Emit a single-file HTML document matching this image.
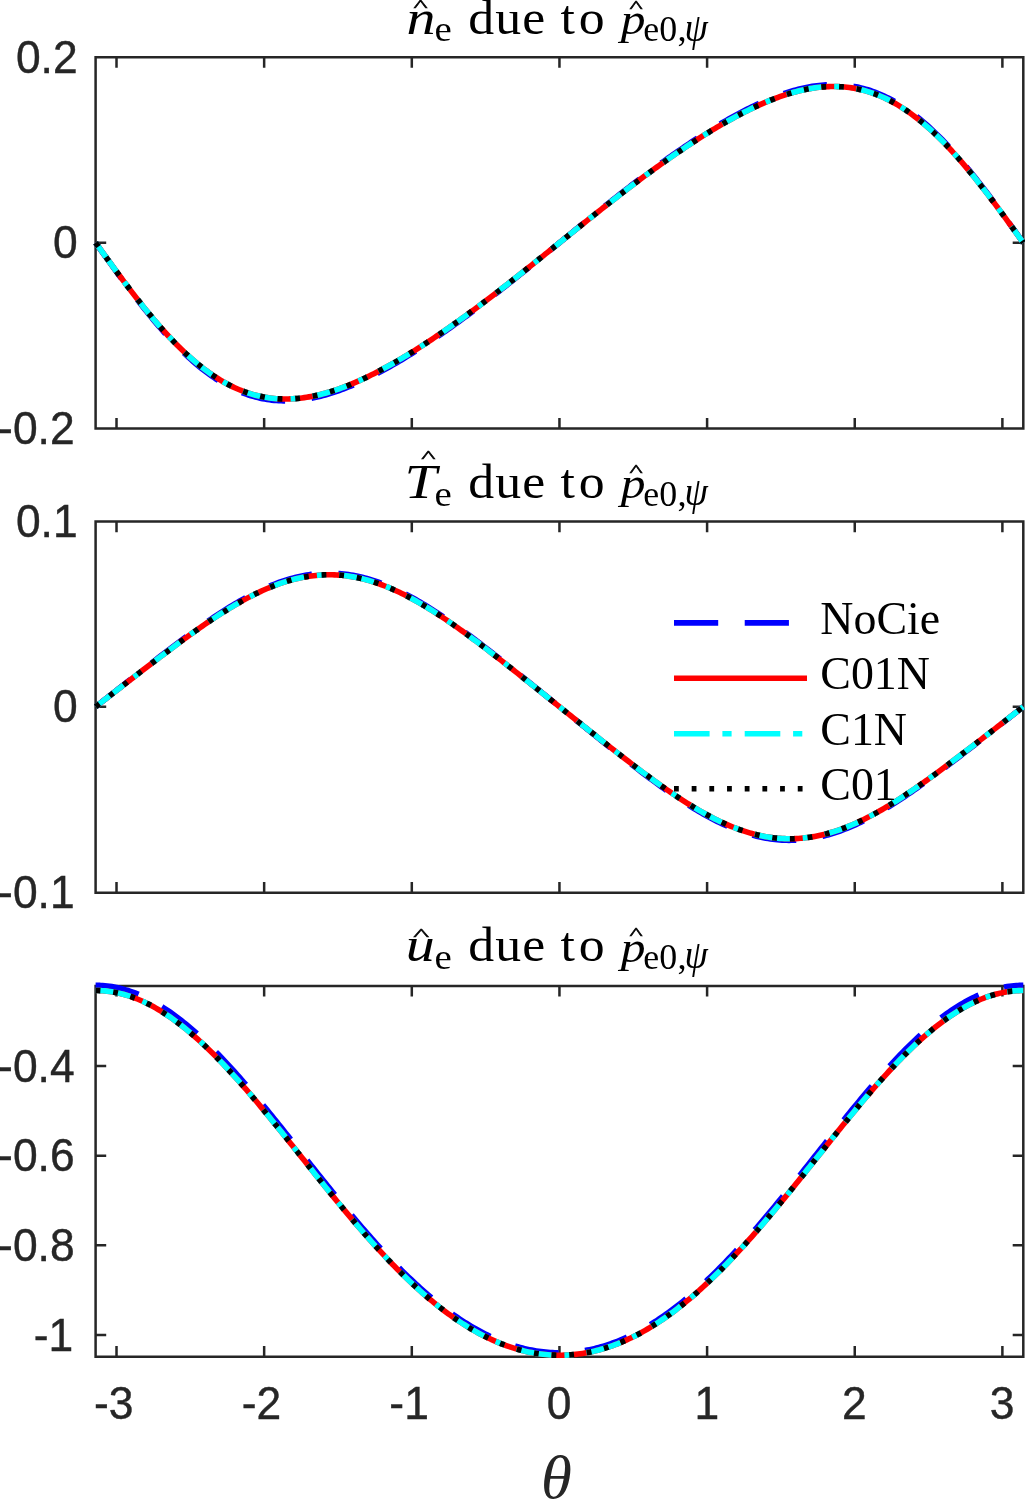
<!DOCTYPE html>
<html><head><meta charset="utf-8"><title>figure</title>
<style>html,body{margin:0;padding:0;background:#fff}svg{display:block}</style></head>
<body>
<svg width="1025" height="1499" viewBox="0 0 1025 1499">
<rect width="1025" height="1499" fill="#fff"/>
<g stroke="#262626" stroke-width="2.5" fill="none" stroke-linecap="butt"><path d="M95.6 56.0 V429.8 M1023.3 56.0 V429.8 M94.35 57.25 H1024.55 M94.35 428.55 H1024.55"/><path d="M116.51 428.55 v-10.6 M116.51 57.25 v10.6 M264.15 428.55 v-10.6 M264.15 57.25 v10.6 M411.80 428.55 v-10.6 M411.80 57.25 v10.6 M559.45 428.55 v-10.6 M559.45 57.25 v10.6 M707.10 428.55 v-10.6 M707.10 57.25 v10.6 M854.75 428.55 v-10.6 M854.75 57.25 v10.6 M1002.39 428.55 v-10.6 M1002.39 57.25 v10.6 M95.6 242.75 h10.6 M1023.3 242.75 h-10.6 "/></g>
<g stroke="#262626" stroke-width="2.5" fill="none" stroke-linecap="butt"><path d="M95.6 520.3 V893.95 M1023.3 520.3 V893.95 M94.35 521.55 H1024.55 M94.35 892.7 H1024.55"/><path d="M116.51 892.7 v-10.6 M116.51 521.55 v10.6 M264.15 892.7 v-10.6 M264.15 521.55 v10.6 M411.80 892.7 v-10.6 M411.80 521.55 v10.6 M559.45 892.7 v-10.6 M559.45 521.55 v10.6 M707.10 892.7 v-10.6 M707.10 521.55 v10.6 M854.75 892.7 v-10.6 M854.75 521.55 v10.6 M1002.39 892.7 v-10.6 M1002.39 521.55 v10.6 M95.6 706.75 h10.6 M1023.3 706.75 h-10.6 "/></g>
<g stroke="#262626" stroke-width="2.5" fill="none" stroke-linecap="butt"><path d="M95.6 984.65 V1357.95 M1023.3 984.65 V1357.95 M94.35 985.9 H1024.55 M94.35 1356.7 H1024.55"/><path d="M116.51 1356.7 v-10.6 M116.51 985.9 v10.6 M264.15 1356.7 v-10.6 M264.15 985.9 v10.6 M411.80 1356.7 v-10.6 M411.80 985.9 v10.6 M559.45 1356.7 v-10.6 M559.45 985.9 v10.6 M707.10 1356.7 v-10.6 M707.10 985.9 v10.6 M854.75 1356.7 v-10.6 M854.75 985.9 v10.6 M1002.39 1356.7 v-10.6 M1002.39 985.9 v10.6 M95.6 1065.90 h10.6 M1023.3 1065.90 h-10.6 M95.6 1155.63 h10.6 M1023.3 1155.63 h-10.6 M95.6 1245.37 h10.6 M1023.3 1245.37 h-10.6 M95.6 1335.10 h10.6 M1023.3 1335.10 h-10.6 "/></g>
<g fill="none" stroke-width="5.6" stroke-linejoin="round">
<path d="M95.60 242.75 L97.92 246.00 L100.24 249.26 L102.56 252.51 L104.88 255.75 L107.20 258.99 L109.52 262.22 L111.83 265.44 L114.15 268.65 L116.47 271.85 L118.79 275.03 L121.11 278.20 L123.43 281.35 L125.75 284.48 L128.07 287.60 L130.39 290.69 L132.71 293.75 L135.03 296.80 L137.35 299.81 L139.67 302.80 L141.98 305.76 L144.30 308.69 L146.62 311.59 L148.94 314.46 L151.26 317.30 L153.58 320.10 L155.90 322.86 L158.22 325.59 L160.54 328.27 L162.86 330.92 L165.18 333.53 L167.50 336.10 L169.82 338.62 L172.14 341.10 L174.45 343.54 L176.77 345.93 L179.09 348.28 L181.41 350.58 L183.73 352.83 L186.05 355.04 L188.37 357.19 L190.69 359.30 L193.01 361.36 L195.33 363.36 L197.65 365.32 L199.97 367.22 L202.29 369.08 L204.60 370.88 L206.92 372.63 L209.24 374.32 L211.56 375.96 L213.88 377.55 L216.20 379.09 L218.52 380.57 L220.84 382.00 L223.16 383.38 L225.48 384.70 L227.80 385.97 L230.12 387.18 L232.44 388.34 L234.75 389.45 L237.07 390.50 L239.39 391.50 L241.71 392.45 L244.03 393.35 L246.35 394.19 L248.67 394.98 L250.99 395.72 L253.31 396.40 L255.63 397.04 L257.95 397.63 L260.27 398.16 L262.59 398.64 L264.91 399.08 L267.22 399.47 L269.54 399.81 L271.86 400.10 L274.18 400.34 L276.50 400.54 L278.82 400.69 L281.14 400.79 L283.46 400.85 L285.78 400.87 L288.10 400.84 L290.42 400.77 L292.74 400.66 L295.06 400.50 L297.37 400.30 L299.69 400.07 L302.01 399.79 L304.33 399.48 L306.65 399.12 L308.97 398.73 L311.29 398.31 L313.61 397.84 L315.93 397.34 L318.25 396.81 L320.57 396.24 L322.89 395.64 L325.21 395.00 L327.52 394.34 L329.84 393.64 L332.16 392.91 L334.48 392.15 L336.80 391.36 L339.12 390.54 L341.44 389.70 L343.76 388.83 L346.08 387.93 L348.40 387.00 L350.72 386.05 L353.04 385.07 L355.36 384.07 L357.68 383.05 L359.99 382.00 L362.31 380.93 L364.63 379.84 L366.95 378.72 L369.27 377.58 L371.59 376.43 L373.91 375.25 L376.23 374.05 L378.55 372.84 L380.87 371.60 L383.19 370.35 L385.51 369.08 L387.83 367.79 L390.14 366.49 L392.46 365.16 L394.78 363.82 L397.10 362.47 L399.42 361.10 L401.74 359.72 L404.06 358.31 L406.38 356.90 L408.70 355.47 L411.02 354.03 L413.34 352.57 L415.66 351.10 L417.98 349.62 L420.29 348.12 L422.61 346.61 L424.93 345.09 L427.25 343.56 L429.57 342.02 L431.89 340.46 L434.21 338.89 L436.53 337.31 L438.85 335.72 L441.17 334.12 L443.49 332.51 L445.81 330.89 L448.13 329.26 L450.45 327.62 L452.76 325.97 L455.08 324.31 L457.40 322.64 L459.72 320.96 L462.04 319.27 L464.36 317.57 L466.68 315.87 L469.00 314.15 L471.32 312.43 L473.64 310.70 L475.96 308.96 L478.28 307.22 L480.60 305.46 L482.91 303.70 L485.23 301.93 L487.55 300.16 L489.87 298.38 L492.19 296.59 L494.51 294.79 L496.83 292.99 L499.15 291.18 L501.47 289.37 L503.79 287.55 L506.11 285.73 L508.43 283.90 L510.75 282.06 L513.07 280.22 L515.38 278.38 L517.70 276.53 L520.02 274.68 L522.34 272.82 L524.66 270.96 L526.98 269.09 L529.30 267.23 L531.62 265.36 L533.94 263.48 L536.26 261.61 L538.58 259.73 L540.90 257.85 L543.22 255.96 L545.53 254.08 L547.85 252.19 L550.17 250.31 L552.49 248.42 L554.81 246.53 L557.13 244.64 L559.45 242.75 L561.77 240.86 L564.09 238.97 L566.41 237.08 L568.73 235.19 L571.05 233.31 L573.37 231.42 L575.68 229.54 L578.00 227.65 L580.32 225.77 L582.64 223.89 L584.96 222.02 L587.28 220.14 L589.60 218.27 L591.92 216.41 L594.24 214.54 L596.56 212.68 L598.88 210.82 L601.20 208.97 L603.52 207.12 L605.84 205.28 L608.15 203.44 L610.47 201.60 L612.79 199.77 L615.11 197.95 L617.43 196.13 L619.75 194.32 L622.07 192.51 L624.39 190.71 L626.71 188.91 L629.03 187.12 L631.35 185.34 L633.67 183.57 L635.99 181.80 L638.30 180.04 L640.62 178.28 L642.94 176.54 L645.26 174.80 L647.58 173.07 L649.90 171.35 L652.22 169.63 L654.54 167.93 L656.86 166.23 L659.18 164.54 L661.50 162.86 L663.82 161.19 L666.14 159.53 L668.45 157.88 L670.77 156.24 L673.09 154.61 L675.41 152.99 L677.73 151.38 L680.05 149.78 L682.37 148.19 L684.69 146.61 L687.01 145.04 L689.33 143.48 L691.65 141.94 L693.97 140.41 L696.29 138.89 L698.60 137.38 L700.92 135.88 L703.24 134.40 L705.56 132.93 L707.88 131.47 L710.20 130.03 L712.52 128.60 L714.84 127.19 L717.16 125.78 L719.48 124.40 L721.80 123.03 L724.12 121.68 L726.44 120.34 L728.76 119.01 L731.07 117.71 L733.39 116.42 L735.71 115.15 L738.03 113.90 L740.35 112.66 L742.67 111.45 L744.99 110.25 L747.31 109.07 L749.63 107.92 L751.95 106.78 L754.27 105.66 L756.59 104.57 L758.91 103.50 L761.22 102.45 L763.54 101.43 L765.86 100.43 L768.18 99.45 L770.50 98.50 L772.82 97.57 L775.14 96.67 L777.46 95.80 L779.78 94.96 L782.10 94.14 L784.42 93.35 L786.74 92.59 L789.06 91.86 L791.38 91.16 L793.69 90.50 L796.01 89.86 L798.33 89.26 L800.65 88.69 L802.97 88.16 L805.29 87.66 L807.61 87.19 L809.93 86.77 L812.25 86.38 L814.57 86.02 L816.89 85.71 L819.21 85.43 L821.53 85.20 L823.84 85.00 L826.16 84.84 L828.48 84.73 L830.80 84.66 L833.12 84.63 L835.44 84.65 L837.76 84.71 L840.08 84.81 L842.40 84.96 L844.72 85.16 L847.04 85.40 L849.36 85.69 L851.68 86.03 L853.99 86.42 L856.31 86.86 L858.63 87.34 L860.95 87.87 L863.27 88.46 L865.59 89.10 L867.91 89.78 L870.23 90.52 L872.55 91.31 L874.87 92.15 L877.19 93.05 L879.51 94.00 L881.83 95.00 L884.14 96.05 L886.46 97.16 L888.78 98.32 L891.10 99.53 L893.42 100.80 L895.74 102.12 L898.06 103.50 L900.38 104.93 L902.70 106.41 L905.02 107.95 L907.34 109.54 L909.66 111.18 L911.98 112.87 L914.30 114.62 L916.61 116.42 L918.93 118.28 L921.25 120.18 L923.57 122.14 L925.89 124.14 L928.21 126.20 L930.53 128.31 L932.85 130.46 L935.17 132.67 L937.49 134.92 L939.81 137.22 L942.13 139.57 L944.45 141.96 L946.76 144.40 L949.08 146.88 L951.40 149.40 L953.72 151.97 L956.04 154.58 L958.36 157.23 L960.68 159.91 L963.00 162.64 L965.32 165.40 L967.64 168.20 L969.96 171.04 L972.28 173.91 L974.60 176.81 L976.92 179.74 L979.23 182.70 L981.55 185.69 L983.87 188.70 L986.19 191.75 L988.51 194.81 L990.83 197.90 L993.15 201.02 L995.47 204.15 L997.79 207.30 L1000.11 210.47 L1002.43 213.65 L1004.75 216.85 L1007.07 220.06 L1009.38 223.28 L1011.70 226.51 L1014.02 229.75 L1016.34 232.99 L1018.66 236.24 L1020.98 239.50 L1023.30 242.75" stroke="#0000ff" stroke-dasharray="44.20 26.52"/>
<path d="M95.60 242.75 L97.92 245.97 L100.24 249.18 L102.56 252.39 L104.88 255.60 L107.20 258.80 L109.52 261.99 L111.83 265.17 L114.15 268.35 L116.47 271.51 L118.79 274.65 L121.11 277.78 L123.43 280.89 L125.75 283.99 L128.07 287.06 L130.39 290.12 L132.71 293.15 L135.03 296.15 L137.35 299.14 L139.67 302.09 L141.98 305.02 L144.30 307.91 L146.62 310.78 L148.94 313.61 L151.26 316.41 L153.58 319.18 L155.90 321.91 L158.22 324.60 L160.54 327.26 L162.86 329.88 L165.18 332.45 L167.50 334.99 L169.82 337.48 L172.14 339.94 L174.45 342.35 L176.77 344.71 L179.09 347.03 L181.41 349.30 L183.73 351.53 L186.05 353.71 L188.37 355.84 L190.69 357.92 L193.01 359.95 L195.33 361.93 L197.65 363.87 L199.97 365.75 L202.29 367.58 L204.60 369.36 L206.92 371.09 L209.24 372.76 L211.56 374.39 L213.88 375.96 L216.20 377.47 L218.52 378.94 L220.84 380.35 L223.16 381.71 L225.48 383.02 L227.80 384.27 L230.12 385.47 L232.44 386.62 L234.75 387.71 L237.07 388.75 L239.39 389.74 L241.71 390.68 L244.03 391.56 L246.35 392.39 L248.67 393.17 L250.99 393.90 L253.31 394.58 L255.63 395.21 L257.95 395.79 L260.27 396.32 L262.59 396.80 L264.91 397.23 L267.22 397.61 L269.54 397.94 L271.86 398.23 L274.18 398.47 L276.50 398.67 L278.82 398.81 L281.14 398.92 L283.46 398.98 L285.78 398.99 L288.10 398.97 L290.42 398.90 L292.74 398.78 L295.06 398.63 L297.37 398.44 L299.69 398.20 L302.01 397.93 L304.33 397.62 L306.65 397.27 L308.97 396.88 L311.29 396.46 L313.61 396.00 L315.93 395.51 L318.25 394.98 L320.57 394.42 L322.89 393.82 L325.21 393.20 L327.52 392.54 L329.84 391.85 L332.16 391.13 L334.48 390.38 L336.80 389.60 L339.12 388.79 L341.44 387.96 L343.76 387.09 L346.08 386.21 L348.40 385.29 L350.72 384.35 L353.04 383.39 L355.36 382.40 L357.68 381.38 L359.99 380.35 L362.31 379.29 L364.63 378.21 L366.95 377.11 L369.27 375.99 L371.59 374.84 L373.91 373.68 L376.23 372.50 L378.55 371.30 L380.87 370.08 L383.19 368.84 L385.51 367.58 L387.83 366.31 L390.14 365.02 L392.46 363.71 L394.78 362.39 L397.10 361.05 L399.42 359.70 L401.74 358.33 L404.06 356.94 L406.38 355.55 L408.70 354.13 L411.02 352.71 L413.34 351.27 L415.66 349.82 L417.98 348.35 L420.29 346.87 L422.61 345.38 L424.93 343.88 L427.25 342.36 L429.57 340.84 L431.89 339.30 L434.21 337.75 L436.53 336.19 L438.85 334.62 L441.17 333.04 L443.49 331.45 L445.81 329.84 L448.13 328.23 L450.45 326.61 L452.76 324.98 L455.08 323.34 L457.40 321.69 L459.72 320.03 L462.04 318.36 L464.36 316.68 L466.68 315.00 L469.00 313.31 L471.32 311.60 L473.64 309.89 L475.96 308.18 L478.28 306.45 L480.60 304.72 L482.91 302.98 L485.23 301.23 L487.55 299.48 L489.87 297.72 L492.19 295.95 L494.51 294.17 L496.83 292.39 L499.15 290.61 L501.47 288.82 L503.79 287.02 L506.11 285.22 L508.43 283.41 L510.75 281.60 L513.07 279.78 L515.38 277.96 L517.70 276.13 L520.02 274.30 L522.34 272.46 L524.66 270.62 L526.98 268.78 L529.30 266.94 L531.62 265.09 L533.94 263.24 L536.26 261.38 L538.58 259.53 L540.90 257.67 L543.22 255.81 L545.53 253.94 L547.85 252.08 L550.17 250.22 L552.49 248.35 L554.81 246.48 L557.13 244.62 L559.45 242.75 L561.77 240.88 L564.09 239.02 L566.41 237.15 L568.73 235.28 L571.05 233.42 L573.37 231.56 L575.68 229.69 L578.00 227.83 L580.32 225.97 L582.64 224.12 L584.96 222.26 L587.28 220.41 L589.60 218.56 L591.92 216.72 L594.24 214.88 L596.56 213.04 L598.88 211.20 L601.20 209.37 L603.52 207.54 L605.84 205.72 L608.15 203.90 L610.47 202.09 L612.79 200.28 L615.11 198.48 L617.43 196.68 L619.75 194.89 L622.07 193.11 L624.39 191.33 L626.71 189.55 L629.03 187.78 L631.35 186.02 L633.67 184.27 L635.99 182.52 L638.30 180.78 L640.62 179.05 L642.94 177.32 L645.26 175.61 L647.58 173.90 L649.90 172.19 L652.22 170.50 L654.54 168.82 L656.86 167.14 L659.18 165.47 L661.50 163.81 L663.82 162.16 L666.14 160.52 L668.45 158.89 L670.77 157.27 L673.09 155.66 L675.41 154.05 L677.73 152.46 L680.05 150.88 L682.37 149.31 L684.69 147.75 L687.01 146.20 L689.33 144.66 L691.65 143.14 L693.97 141.62 L696.29 140.12 L698.60 138.63 L700.92 137.15 L703.24 135.68 L705.56 134.23 L707.88 132.79 L710.20 131.37 L712.52 129.95 L714.84 128.56 L717.16 127.17 L719.48 125.80 L721.80 124.45 L724.12 123.11 L726.44 121.79 L728.76 120.48 L731.07 119.19 L733.39 117.92 L735.71 116.66 L738.03 115.42 L740.35 114.20 L742.67 113.00 L744.99 111.82 L747.31 110.66 L749.63 109.51 L751.95 108.39 L754.27 107.29 L756.59 106.21 L758.91 105.15 L761.22 104.12 L763.54 103.10 L765.86 102.11 L768.18 101.15 L770.50 100.21 L772.82 99.29 L775.14 98.41 L777.46 97.54 L779.78 96.71 L782.10 95.90 L784.42 95.12 L786.74 94.37 L789.06 93.65 L791.38 92.96 L793.69 92.30 L796.01 91.68 L798.33 91.08 L800.65 90.52 L802.97 89.99 L805.29 89.50 L807.61 89.04 L809.93 88.62 L812.25 88.23 L814.57 87.88 L816.89 87.57 L819.21 87.30 L821.53 87.06 L823.84 86.87 L826.16 86.72 L828.48 86.60 L830.80 86.53 L833.12 86.51 L835.44 86.52 L837.76 86.58 L840.08 86.69 L842.40 86.83 L844.72 87.03 L847.04 87.27 L849.36 87.56 L851.68 87.89 L853.99 88.27 L856.31 88.70 L858.63 89.18 L860.95 89.71 L863.27 90.29 L865.59 90.92 L867.91 91.60 L870.23 92.33 L872.55 93.11 L874.87 93.94 L877.19 94.82 L879.51 95.76 L881.83 96.75 L884.14 97.79 L886.46 98.88 L888.78 100.03 L891.10 101.23 L893.42 102.48 L895.74 103.79 L898.06 105.15 L900.38 106.56 L902.70 108.03 L905.02 109.54 L907.34 111.11 L909.66 112.74 L911.98 114.41 L914.30 116.14 L916.61 117.92 L918.93 119.75 L921.25 121.63 L923.57 123.57 L925.89 125.55 L928.21 127.58 L930.53 129.66 L932.85 131.79 L935.17 133.97 L937.49 136.20 L939.81 138.47 L942.13 140.79 L944.45 143.15 L946.76 145.56 L949.08 148.02 L951.40 150.51 L953.72 153.05 L956.04 155.62 L958.36 158.24 L960.68 160.90 L963.00 163.59 L965.32 166.32 L967.64 169.09 L969.96 171.89 L972.28 174.72 L974.60 177.59 L976.92 180.48 L979.23 183.41 L981.55 186.36 L983.87 189.35 L986.19 192.35 L988.51 195.38 L990.83 198.44 L993.15 201.51 L995.47 204.61 L997.79 207.72 L1000.11 210.85 L1002.43 213.99 L1004.75 217.15 L1007.07 220.33 L1009.38 223.51 L1011.70 226.70 L1014.02 229.90 L1016.34 233.11 L1018.66 236.32 L1020.98 239.53 L1023.30 242.75" stroke="#ff0000"/>
<path d="M95.60 242.75 L97.92 245.97 L100.24 249.18 L102.56 252.39 L104.88 255.60 L107.20 258.80 L109.52 261.99 L111.83 265.17 L114.15 268.35 L116.47 271.51 L118.79 274.65 L121.11 277.78 L123.43 280.89 L125.75 283.99 L128.07 287.06 L130.39 290.12 L132.71 293.15 L135.03 296.15 L137.35 299.14 L139.67 302.09 L141.98 305.02 L144.30 307.91 L146.62 310.78 L148.94 313.61 L151.26 316.41 L153.58 319.18 L155.90 321.91 L158.22 324.60 L160.54 327.26 L162.86 329.88 L165.18 332.45 L167.50 334.99 L169.82 337.48 L172.14 339.94 L174.45 342.35 L176.77 344.71 L179.09 347.03 L181.41 349.30 L183.73 351.53 L186.05 353.71 L188.37 355.84 L190.69 357.92 L193.01 359.95 L195.33 361.93 L197.65 363.87 L199.97 365.75 L202.29 367.58 L204.60 369.36 L206.92 371.09 L209.24 372.76 L211.56 374.39 L213.88 375.96 L216.20 377.47 L218.52 378.94 L220.84 380.35 L223.16 381.71 L225.48 383.02 L227.80 384.27 L230.12 385.47 L232.44 386.62 L234.75 387.71 L237.07 388.75 L239.39 389.74 L241.71 390.68 L244.03 391.56 L246.35 392.39 L248.67 393.17 L250.99 393.90 L253.31 394.58 L255.63 395.21 L257.95 395.79 L260.27 396.32 L262.59 396.80 L264.91 397.23 L267.22 397.61 L269.54 397.94 L271.86 398.23 L274.18 398.47 L276.50 398.67 L278.82 398.81 L281.14 398.92 L283.46 398.98 L285.78 398.99 L288.10 398.97 L290.42 398.90 L292.74 398.78 L295.06 398.63 L297.37 398.44 L299.69 398.20 L302.01 397.93 L304.33 397.62 L306.65 397.27 L308.97 396.88 L311.29 396.46 L313.61 396.00 L315.93 395.51 L318.25 394.98 L320.57 394.42 L322.89 393.82 L325.21 393.20 L327.52 392.54 L329.84 391.85 L332.16 391.13 L334.48 390.38 L336.80 389.60 L339.12 388.79 L341.44 387.96 L343.76 387.09 L346.08 386.21 L348.40 385.29 L350.72 384.35 L353.04 383.39 L355.36 382.40 L357.68 381.38 L359.99 380.35 L362.31 379.29 L364.63 378.21 L366.95 377.11 L369.27 375.99 L371.59 374.84 L373.91 373.68 L376.23 372.50 L378.55 371.30 L380.87 370.08 L383.19 368.84 L385.51 367.58 L387.83 366.31 L390.14 365.02 L392.46 363.71 L394.78 362.39 L397.10 361.05 L399.42 359.70 L401.74 358.33 L404.06 356.94 L406.38 355.55 L408.70 354.13 L411.02 352.71 L413.34 351.27 L415.66 349.82 L417.98 348.35 L420.29 346.87 L422.61 345.38 L424.93 343.88 L427.25 342.36 L429.57 340.84 L431.89 339.30 L434.21 337.75 L436.53 336.19 L438.85 334.62 L441.17 333.04 L443.49 331.45 L445.81 329.84 L448.13 328.23 L450.45 326.61 L452.76 324.98 L455.08 323.34 L457.40 321.69 L459.72 320.03 L462.04 318.36 L464.36 316.68 L466.68 315.00 L469.00 313.31 L471.32 311.60 L473.64 309.89 L475.96 308.18 L478.28 306.45 L480.60 304.72 L482.91 302.98 L485.23 301.23 L487.55 299.48 L489.87 297.72 L492.19 295.95 L494.51 294.17 L496.83 292.39 L499.15 290.61 L501.47 288.82 L503.79 287.02 L506.11 285.22 L508.43 283.41 L510.75 281.60 L513.07 279.78 L515.38 277.96 L517.70 276.13 L520.02 274.30 L522.34 272.46 L524.66 270.62 L526.98 268.78 L529.30 266.94 L531.62 265.09 L533.94 263.24 L536.26 261.38 L538.58 259.53 L540.90 257.67 L543.22 255.81 L545.53 253.94 L547.85 252.08 L550.17 250.22 L552.49 248.35 L554.81 246.48 L557.13 244.62 L559.45 242.75 L561.77 240.88 L564.09 239.02 L566.41 237.15 L568.73 235.28 L571.05 233.42 L573.37 231.56 L575.68 229.69 L578.00 227.83 L580.32 225.97 L582.64 224.12 L584.96 222.26 L587.28 220.41 L589.60 218.56 L591.92 216.72 L594.24 214.88 L596.56 213.04 L598.88 211.20 L601.20 209.37 L603.52 207.54 L605.84 205.72 L608.15 203.90 L610.47 202.09 L612.79 200.28 L615.11 198.48 L617.43 196.68 L619.75 194.89 L622.07 193.11 L624.39 191.33 L626.71 189.55 L629.03 187.78 L631.35 186.02 L633.67 184.27 L635.99 182.52 L638.30 180.78 L640.62 179.05 L642.94 177.32 L645.26 175.61 L647.58 173.90 L649.90 172.19 L652.22 170.50 L654.54 168.82 L656.86 167.14 L659.18 165.47 L661.50 163.81 L663.82 162.16 L666.14 160.52 L668.45 158.89 L670.77 157.27 L673.09 155.66 L675.41 154.05 L677.73 152.46 L680.05 150.88 L682.37 149.31 L684.69 147.75 L687.01 146.20 L689.33 144.66 L691.65 143.14 L693.97 141.62 L696.29 140.12 L698.60 138.63 L700.92 137.15 L703.24 135.68 L705.56 134.23 L707.88 132.79 L710.20 131.37 L712.52 129.95 L714.84 128.56 L717.16 127.17 L719.48 125.80 L721.80 124.45 L724.12 123.11 L726.44 121.79 L728.76 120.48 L731.07 119.19 L733.39 117.92 L735.71 116.66 L738.03 115.42 L740.35 114.20 L742.67 113.00 L744.99 111.82 L747.31 110.66 L749.63 109.51 L751.95 108.39 L754.27 107.29 L756.59 106.21 L758.91 105.15 L761.22 104.12 L763.54 103.10 L765.86 102.11 L768.18 101.15 L770.50 100.21 L772.82 99.29 L775.14 98.41 L777.46 97.54 L779.78 96.71 L782.10 95.90 L784.42 95.12 L786.74 94.37 L789.06 93.65 L791.38 92.96 L793.69 92.30 L796.01 91.68 L798.33 91.08 L800.65 90.52 L802.97 89.99 L805.29 89.50 L807.61 89.04 L809.93 88.62 L812.25 88.23 L814.57 87.88 L816.89 87.57 L819.21 87.30 L821.53 87.06 L823.84 86.87 L826.16 86.72 L828.48 86.60 L830.80 86.53 L833.12 86.51 L835.44 86.52 L837.76 86.58 L840.08 86.69 L842.40 86.83 L844.72 87.03 L847.04 87.27 L849.36 87.56 L851.68 87.89 L853.99 88.27 L856.31 88.70 L858.63 89.18 L860.95 89.71 L863.27 90.29 L865.59 90.92 L867.91 91.60 L870.23 92.33 L872.55 93.11 L874.87 93.94 L877.19 94.82 L879.51 95.76 L881.83 96.75 L884.14 97.79 L886.46 98.88 L888.78 100.03 L891.10 101.23 L893.42 102.48 L895.74 103.79 L898.06 105.15 L900.38 106.56 L902.70 108.03 L905.02 109.54 L907.34 111.11 L909.66 112.74 L911.98 114.41 L914.30 116.14 L916.61 117.92 L918.93 119.75 L921.25 121.63 L923.57 123.57 L925.89 125.55 L928.21 127.58 L930.53 129.66 L932.85 131.79 L935.17 133.97 L937.49 136.20 L939.81 138.47 L942.13 140.79 L944.45 143.15 L946.76 145.56 L949.08 148.02 L951.40 150.51 L953.72 153.05 L956.04 155.62 L958.36 158.24 L960.68 160.90 L963.00 163.59 L965.32 166.32 L967.64 169.09 L969.96 171.89 L972.28 174.72 L974.60 177.59 L976.92 180.48 L979.23 183.41 L981.55 186.36 L983.87 189.35 L986.19 192.35 L988.51 195.38 L990.83 198.44 L993.15 201.51 L995.47 204.61 L997.79 207.72 L1000.11 210.85 L1002.43 213.99 L1004.75 217.15 L1007.07 220.33 L1009.38 223.51 L1011.70 226.70 L1014.02 229.90 L1016.34 233.11 L1018.66 236.32 L1020.98 239.53 L1023.30 242.75" stroke="#00ffff" stroke-dasharray="35.6 12.8 9.2 13.1"/>
<path d="M95.60 242.75 L97.92 245.97 L100.24 249.18 L102.56 252.39 L104.88 255.60 L107.20 258.80 L109.52 261.99 L111.83 265.17 L114.15 268.35 L116.47 271.51 L118.79 274.65 L121.11 277.78 L123.43 280.89 L125.75 283.99 L128.07 287.06 L130.39 290.12 L132.71 293.15 L135.03 296.15 L137.35 299.14 L139.67 302.09 L141.98 305.02 L144.30 307.91 L146.62 310.78 L148.94 313.61 L151.26 316.41 L153.58 319.18 L155.90 321.91 L158.22 324.60 L160.54 327.26 L162.86 329.88 L165.18 332.45 L167.50 334.99 L169.82 337.48 L172.14 339.94 L174.45 342.35 L176.77 344.71 L179.09 347.03 L181.41 349.30 L183.73 351.53 L186.05 353.71 L188.37 355.84 L190.69 357.92 L193.01 359.95 L195.33 361.93 L197.65 363.87 L199.97 365.75 L202.29 367.58 L204.60 369.36 L206.92 371.09 L209.24 372.76 L211.56 374.39 L213.88 375.96 L216.20 377.47 L218.52 378.94 L220.84 380.35 L223.16 381.71 L225.48 383.02 L227.80 384.27 L230.12 385.47 L232.44 386.62 L234.75 387.71 L237.07 388.75 L239.39 389.74 L241.71 390.68 L244.03 391.56 L246.35 392.39 L248.67 393.17 L250.99 393.90 L253.31 394.58 L255.63 395.21 L257.95 395.79 L260.27 396.32 L262.59 396.80 L264.91 397.23 L267.22 397.61 L269.54 397.94 L271.86 398.23 L274.18 398.47 L276.50 398.67 L278.82 398.81 L281.14 398.92 L283.46 398.98 L285.78 398.99 L288.10 398.97 L290.42 398.90 L292.74 398.78 L295.06 398.63 L297.37 398.44 L299.69 398.20 L302.01 397.93 L304.33 397.62 L306.65 397.27 L308.97 396.88 L311.29 396.46 L313.61 396.00 L315.93 395.51 L318.25 394.98 L320.57 394.42 L322.89 393.82 L325.21 393.20 L327.52 392.54 L329.84 391.85 L332.16 391.13 L334.48 390.38 L336.80 389.60 L339.12 388.79 L341.44 387.96 L343.76 387.09 L346.08 386.21 L348.40 385.29 L350.72 384.35 L353.04 383.39 L355.36 382.40 L357.68 381.38 L359.99 380.35 L362.31 379.29 L364.63 378.21 L366.95 377.11 L369.27 375.99 L371.59 374.84 L373.91 373.68 L376.23 372.50 L378.55 371.30 L380.87 370.08 L383.19 368.84 L385.51 367.58 L387.83 366.31 L390.14 365.02 L392.46 363.71 L394.78 362.39 L397.10 361.05 L399.42 359.70 L401.74 358.33 L404.06 356.94 L406.38 355.55 L408.70 354.13 L411.02 352.71 L413.34 351.27 L415.66 349.82 L417.98 348.35 L420.29 346.87 L422.61 345.38 L424.93 343.88 L427.25 342.36 L429.57 340.84 L431.89 339.30 L434.21 337.75 L436.53 336.19 L438.85 334.62 L441.17 333.04 L443.49 331.45 L445.81 329.84 L448.13 328.23 L450.45 326.61 L452.76 324.98 L455.08 323.34 L457.40 321.69 L459.72 320.03 L462.04 318.36 L464.36 316.68 L466.68 315.00 L469.00 313.31 L471.32 311.60 L473.64 309.89 L475.96 308.18 L478.28 306.45 L480.60 304.72 L482.91 302.98 L485.23 301.23 L487.55 299.48 L489.87 297.72 L492.19 295.95 L494.51 294.17 L496.83 292.39 L499.15 290.61 L501.47 288.82 L503.79 287.02 L506.11 285.22 L508.43 283.41 L510.75 281.60 L513.07 279.78 L515.38 277.96 L517.70 276.13 L520.02 274.30 L522.34 272.46 L524.66 270.62 L526.98 268.78 L529.30 266.94 L531.62 265.09 L533.94 263.24 L536.26 261.38 L538.58 259.53 L540.90 257.67 L543.22 255.81 L545.53 253.94 L547.85 252.08 L550.17 250.22 L552.49 248.35 L554.81 246.48 L557.13 244.62 L559.45 242.75 L561.77 240.88 L564.09 239.02 L566.41 237.15 L568.73 235.28 L571.05 233.42 L573.37 231.56 L575.68 229.69 L578.00 227.83 L580.32 225.97 L582.64 224.12 L584.96 222.26 L587.28 220.41 L589.60 218.56 L591.92 216.72 L594.24 214.88 L596.56 213.04 L598.88 211.20 L601.20 209.37 L603.52 207.54 L605.84 205.72 L608.15 203.90 L610.47 202.09 L612.79 200.28 L615.11 198.48 L617.43 196.68 L619.75 194.89 L622.07 193.11 L624.39 191.33 L626.71 189.55 L629.03 187.78 L631.35 186.02 L633.67 184.27 L635.99 182.52 L638.30 180.78 L640.62 179.05 L642.94 177.32 L645.26 175.61 L647.58 173.90 L649.90 172.19 L652.22 170.50 L654.54 168.82 L656.86 167.14 L659.18 165.47 L661.50 163.81 L663.82 162.16 L666.14 160.52 L668.45 158.89 L670.77 157.27 L673.09 155.66 L675.41 154.05 L677.73 152.46 L680.05 150.88 L682.37 149.31 L684.69 147.75 L687.01 146.20 L689.33 144.66 L691.65 143.14 L693.97 141.62 L696.29 140.12 L698.60 138.63 L700.92 137.15 L703.24 135.68 L705.56 134.23 L707.88 132.79 L710.20 131.37 L712.52 129.95 L714.84 128.56 L717.16 127.17 L719.48 125.80 L721.80 124.45 L724.12 123.11 L726.44 121.79 L728.76 120.48 L731.07 119.19 L733.39 117.92 L735.71 116.66 L738.03 115.42 L740.35 114.20 L742.67 113.00 L744.99 111.82 L747.31 110.66 L749.63 109.51 L751.95 108.39 L754.27 107.29 L756.59 106.21 L758.91 105.15 L761.22 104.12 L763.54 103.10 L765.86 102.11 L768.18 101.15 L770.50 100.21 L772.82 99.29 L775.14 98.41 L777.46 97.54 L779.78 96.71 L782.10 95.90 L784.42 95.12 L786.74 94.37 L789.06 93.65 L791.38 92.96 L793.69 92.30 L796.01 91.68 L798.33 91.08 L800.65 90.52 L802.97 89.99 L805.29 89.50 L807.61 89.04 L809.93 88.62 L812.25 88.23 L814.57 87.88 L816.89 87.57 L819.21 87.30 L821.53 87.06 L823.84 86.87 L826.16 86.72 L828.48 86.60 L830.80 86.53 L833.12 86.51 L835.44 86.52 L837.76 86.58 L840.08 86.69 L842.40 86.83 L844.72 87.03 L847.04 87.27 L849.36 87.56 L851.68 87.89 L853.99 88.27 L856.31 88.70 L858.63 89.18 L860.95 89.71 L863.27 90.29 L865.59 90.92 L867.91 91.60 L870.23 92.33 L872.55 93.11 L874.87 93.94 L877.19 94.82 L879.51 95.76 L881.83 96.75 L884.14 97.79 L886.46 98.88 L888.78 100.03 L891.10 101.23 L893.42 102.48 L895.74 103.79 L898.06 105.15 L900.38 106.56 L902.70 108.03 L905.02 109.54 L907.34 111.11 L909.66 112.74 L911.98 114.41 L914.30 116.14 L916.61 117.92 L918.93 119.75 L921.25 121.63 L923.57 123.57 L925.89 125.55 L928.21 127.58 L930.53 129.66 L932.85 131.79 L935.17 133.97 L937.49 136.20 L939.81 138.47 L942.13 140.79 L944.45 143.15 L946.76 145.56 L949.08 148.02 L951.40 150.51 L953.72 153.05 L956.04 155.62 L958.36 158.24 L960.68 160.90 L963.00 163.59 L965.32 166.32 L967.64 169.09 L969.96 171.89 L972.28 174.72 L974.60 177.59 L976.92 180.48 L979.23 183.41 L981.55 186.36 L983.87 189.35 L986.19 192.35 L988.51 195.38 L990.83 198.44 L993.15 201.51 L995.47 204.61 L997.79 207.72 L1000.11 210.85 L1002.43 213.99 L1004.75 217.15 L1007.07 220.33 L1009.38 223.51 L1011.70 226.70 L1014.02 229.90 L1016.34 233.11 L1018.66 236.32 L1020.98 239.53 L1023.30 242.75" stroke="#000000" stroke-dasharray="4.8 12.88"/>
</g>
<g fill="none" stroke-width="5.6" stroke-linejoin="round">
<path d="M95.60 706.75 L97.92 704.93 L100.24 703.10 L102.56 701.28 L104.88 699.46 L107.20 697.63 L109.52 695.81 L111.83 693.99 L114.15 692.17 L116.47 690.35 L118.79 688.53 L121.11 686.71 L123.43 684.89 L125.75 683.07 L128.07 681.25 L130.39 679.44 L132.71 677.63 L135.03 675.81 L137.35 674.00 L139.67 672.19 L141.98 670.39 L144.30 668.58 L146.62 666.78 L148.94 664.98 L151.26 663.19 L153.58 661.40 L155.90 659.61 L158.22 657.82 L160.54 656.04 L162.86 654.27 L165.18 652.49 L167.50 650.73 L169.82 648.97 L172.14 647.21 L174.45 645.46 L176.77 643.72 L179.09 641.99 L181.41 640.26 L183.73 638.54 L186.05 636.83 L188.37 635.13 L190.69 633.44 L193.01 631.76 L195.33 630.09 L197.65 628.43 L199.97 626.79 L202.29 625.15 L204.60 623.53 L206.92 621.92 L209.24 620.33 L211.56 618.75 L213.88 617.19 L216.20 615.64 L218.52 614.12 L220.84 612.60 L223.16 611.11 L225.48 609.63 L227.80 608.18 L230.12 606.74 L232.44 605.33 L234.75 603.94 L237.07 602.57 L239.39 601.22 L241.71 599.90 L244.03 598.60 L246.35 597.33 L248.67 596.08 L250.99 594.86 L253.31 593.66 L255.63 592.49 L257.95 591.36 L260.27 590.25 L262.59 589.17 L264.91 588.12 L267.22 587.10 L269.54 586.12 L271.86 585.16 L274.18 584.24 L276.50 583.35 L278.82 582.50 L281.14 581.68 L283.46 580.90 L285.78 580.15 L288.10 579.43 L290.42 578.76 L292.74 578.12 L295.06 577.52 L297.37 576.95 L299.69 576.42 L302.01 575.94 L304.33 575.49 L306.65 575.08 L308.97 574.71 L311.29 574.38 L313.61 574.08 L315.93 573.83 L318.25 573.62 L320.57 573.45 L322.89 573.32 L325.21 573.23 L327.52 573.18 L329.84 573.17 L332.16 573.20 L334.48 573.28 L336.80 573.39 L339.12 573.54 L341.44 573.74 L343.76 573.97 L346.08 574.25 L348.40 574.56 L350.72 574.92 L353.04 575.31 L355.36 575.75 L357.68 576.22 L359.99 576.73 L362.31 577.28 L364.63 577.87 L366.95 578.50 L369.27 579.16 L371.59 579.86 L373.91 580.60 L376.23 581.37 L378.55 582.18 L380.87 583.02 L383.19 583.90 L385.51 584.81 L387.83 585.76 L390.14 586.74 L392.46 587.75 L394.78 588.79 L397.10 589.87 L399.42 590.97 L401.74 592.11 L404.06 593.27 L406.38 594.46 L408.70 595.68 L411.02 596.93 L413.34 598.21 L415.66 599.51 L417.98 600.83 L420.29 602.19 L422.61 603.56 L424.93 604.96 L427.25 606.38 L429.57 607.82 L431.89 609.29 L434.21 610.77 L436.53 612.28 L438.85 613.81 L441.17 615.35 L443.49 616.91 L445.81 618.49 L448.13 620.09 L450.45 621.70 L452.76 623.32 L455.08 624.97 L457.40 626.62 L459.72 628.29 L462.04 629.98 L464.36 631.67 L466.68 633.38 L469.00 635.10 L471.32 636.83 L473.64 638.57 L475.96 640.32 L478.28 642.08 L480.60 643.85 L482.91 645.63 L485.23 647.41 L487.55 649.20 L489.87 651.00 L492.19 652.81 L494.51 654.62 L496.83 656.44 L499.15 658.26 L501.47 660.09 L503.79 661.93 L506.11 663.77 L508.43 665.61 L510.75 667.45 L513.07 669.31 L515.38 671.16 L517.70 673.02 L520.02 674.88 L522.34 676.74 L524.66 678.60 L526.98 680.47 L529.30 682.34 L531.62 684.21 L533.94 686.08 L536.26 687.96 L538.58 689.83 L540.90 691.71 L543.22 693.59 L545.53 695.47 L547.85 697.35 L550.17 699.23 L552.49 701.11 L554.81 702.99 L557.13 704.87 L559.45 706.75 L561.77 708.63 L564.09 710.51 L566.41 712.39 L568.73 714.27 L571.05 716.15 L573.37 718.03 L575.68 719.91 L578.00 721.79 L580.32 723.67 L582.64 725.54 L584.96 727.42 L587.28 729.29 L589.60 731.16 L591.92 733.03 L594.24 734.90 L596.56 736.76 L598.88 738.62 L601.20 740.48 L603.52 742.34 L605.84 744.19 L608.15 746.05 L610.47 747.89 L612.79 749.73 L615.11 751.57 L617.43 753.41 L619.75 755.24 L622.07 757.06 L624.39 758.88 L626.71 760.69 L629.03 762.50 L631.35 764.30 L633.67 766.09 L635.99 767.87 L638.30 769.65 L640.62 771.42 L642.94 773.18 L645.26 774.93 L647.58 776.67 L649.90 778.40 L652.22 780.12 L654.54 781.83 L656.86 783.52 L659.18 785.21 L661.50 786.88 L663.82 788.53 L666.14 790.18 L668.45 791.80 L670.77 793.41 L673.09 795.01 L675.41 796.59 L677.73 798.15 L680.05 799.69 L682.37 801.22 L684.69 802.73 L687.01 804.21 L689.33 805.68 L691.65 807.12 L693.97 808.54 L696.29 809.94 L698.60 811.31 L700.92 812.67 L703.24 813.99 L705.56 815.29 L707.88 816.57 L710.20 817.82 L712.52 819.04 L714.84 820.23 L717.16 821.39 L719.48 822.53 L721.80 823.63 L724.12 824.71 L726.44 825.75 L728.76 826.76 L731.07 827.74 L733.39 828.69 L735.71 829.60 L738.03 830.48 L740.35 831.32 L742.67 832.13 L744.99 832.90 L747.31 833.64 L749.63 834.34 L751.95 835.00 L754.27 835.63 L756.59 836.22 L758.91 836.77 L761.22 837.28 L763.54 837.75 L765.86 838.19 L768.18 838.58 L770.50 838.94 L772.82 839.25 L775.14 839.53 L777.46 839.76 L779.78 839.96 L782.10 840.11 L784.42 840.22 L786.74 840.30 L789.06 840.33 L791.38 840.32 L793.69 840.27 L796.01 840.18 L798.33 840.05 L800.65 839.88 L802.97 839.67 L805.29 839.42 L807.61 839.12 L809.93 838.79 L812.25 838.42 L814.57 838.01 L816.89 837.56 L819.21 837.08 L821.53 836.55 L823.84 835.98 L826.16 835.38 L828.48 834.74 L830.80 834.07 L833.12 833.35 L835.44 832.60 L837.76 831.82 L840.08 831.00 L842.40 830.15 L844.72 829.26 L847.04 828.34 L849.36 827.38 L851.68 826.40 L853.99 825.38 L856.31 824.33 L858.63 823.25 L860.95 822.14 L863.27 821.01 L865.59 819.84 L867.91 818.64 L870.23 817.42 L872.55 816.17 L874.87 814.90 L877.19 813.60 L879.51 812.28 L881.83 810.93 L884.14 809.56 L886.46 808.17 L888.78 806.76 L891.10 805.32 L893.42 803.87 L895.74 802.39 L898.06 800.90 L900.38 799.38 L902.70 797.86 L905.02 796.31 L907.34 794.75 L909.66 793.17 L911.98 791.58 L914.30 789.97 L916.61 788.35 L918.93 786.71 L921.25 785.07 L923.57 783.41 L925.89 781.74 L928.21 780.06 L930.53 778.37 L932.85 776.67 L935.17 774.96 L937.49 773.24 L939.81 771.51 L942.13 769.78 L944.45 768.04 L946.76 766.29 L949.08 764.53 L951.40 762.77 L953.72 761.01 L956.04 759.23 L958.36 757.46 L960.68 755.68 L963.00 753.89 L965.32 752.10 L967.64 750.31 L969.96 748.52 L972.28 746.72 L974.60 744.92 L976.92 743.11 L979.23 741.31 L981.55 739.50 L983.87 737.69 L986.19 735.87 L988.51 734.06 L990.83 732.25 L993.15 730.43 L995.47 728.61 L997.79 726.79 L1000.11 724.97 L1002.43 723.15 L1004.75 721.33 L1007.07 719.51 L1009.38 717.69 L1011.70 715.87 L1014.02 714.04 L1016.34 712.22 L1018.66 710.40 L1020.98 708.57 L1023.30 706.75" stroke="#0000ff" stroke-dasharray="44.20 26.52"/>
<path d="M95.60 706.75 L97.92 704.95 L100.24 703.15 L102.56 701.34 L104.88 699.54 L107.20 697.74 L109.52 695.94 L111.83 694.14 L114.15 692.34 L116.47 690.54 L118.79 688.74 L121.11 686.95 L123.43 685.15 L125.75 683.35 L128.07 681.56 L130.39 679.76 L132.71 677.97 L135.03 676.18 L137.35 674.39 L139.67 672.60 L141.98 670.82 L144.30 669.04 L146.62 667.26 L148.94 665.48 L151.26 663.70 L153.58 661.93 L155.90 660.17 L158.22 658.40 L160.54 656.64 L162.86 654.89 L165.18 653.14 L167.50 651.39 L169.82 649.65 L172.14 647.92 L174.45 646.19 L176.77 644.47 L179.09 642.76 L181.41 641.05 L183.73 639.35 L186.05 637.66 L188.37 635.98 L190.69 634.31 L193.01 632.65 L195.33 631.00 L197.65 629.36 L199.97 627.74 L202.29 626.12 L204.60 624.52 L206.92 622.93 L209.24 621.36 L211.56 619.80 L213.88 618.25 L216.20 616.72 L218.52 615.21 L220.84 613.72 L223.16 612.24 L225.48 610.79 L227.80 609.35 L230.12 607.93 L232.44 606.53 L234.75 605.16 L237.07 603.80 L239.39 602.47 L241.71 601.16 L244.03 599.88 L246.35 598.62 L248.67 597.39 L250.99 596.18 L253.31 595.00 L255.63 593.85 L257.95 592.72 L260.27 591.63 L262.59 590.56 L264.91 589.53 L267.22 588.52 L269.54 587.55 L271.86 586.60 L274.18 585.69 L276.50 584.82 L278.82 583.97 L281.14 583.16 L283.46 582.39 L285.78 581.65 L288.10 580.94 L290.42 580.28 L292.74 579.64 L295.06 579.05 L297.37 578.49 L299.69 577.97 L302.01 577.49 L304.33 577.04 L306.65 576.64 L308.97 576.27 L311.29 575.94 L313.61 575.66 L315.93 575.41 L318.25 575.20 L320.57 575.03 L322.89 574.90 L325.21 574.81 L327.52 574.76 L329.84 574.76 L332.16 574.79 L334.48 574.86 L336.80 574.97 L339.12 575.12 L341.44 575.32 L343.76 575.55 L346.08 575.82 L348.40 576.13 L350.72 576.48 L353.04 576.87 L355.36 577.30 L357.68 577.77 L359.99 578.27 L362.31 578.82 L364.63 579.40 L366.95 580.02 L369.27 580.67 L371.59 581.36 L373.91 582.09 L376.23 582.86 L378.55 583.66 L380.87 584.49 L383.19 585.36 L385.51 586.26 L387.83 587.19 L390.14 588.16 L392.46 589.16 L394.78 590.19 L397.10 591.25 L399.42 592.34 L401.74 593.46 L404.06 594.61 L406.38 595.79 L408.70 597.00 L411.02 598.23 L413.34 599.49 L415.66 600.78 L417.98 602.09 L420.29 603.43 L422.61 604.78 L424.93 606.17 L427.25 607.57 L429.57 609.00 L431.89 610.44 L434.21 611.91 L436.53 613.40 L438.85 614.91 L441.17 616.43 L443.49 617.98 L445.81 619.54 L448.13 621.11 L450.45 622.71 L452.76 624.31 L455.08 625.94 L457.40 627.57 L459.72 629.22 L462.04 630.89 L464.36 632.56 L466.68 634.25 L469.00 635.95 L471.32 637.66 L473.64 639.38 L475.96 641.11 L478.28 642.85 L480.60 644.59 L482.91 646.35 L485.23 648.11 L487.55 649.89 L489.87 651.66 L492.19 653.45 L494.51 655.24 L496.83 657.04 L499.15 658.84 L501.47 660.65 L503.79 662.46 L506.11 664.27 L508.43 666.10 L510.75 667.92 L513.07 669.75 L515.38 671.58 L517.70 673.42 L520.02 675.25 L522.34 677.09 L524.66 678.94 L526.98 680.78 L529.30 682.63 L531.62 684.48 L533.94 686.33 L536.26 688.18 L538.58 690.03 L540.90 691.89 L543.22 693.74 L545.53 695.60 L547.85 697.46 L550.17 699.32 L552.49 701.17 L554.81 703.03 L557.13 704.89 L559.45 706.75 L561.77 708.61 L564.09 710.47 L566.41 712.33 L568.73 714.18 L571.05 716.04 L573.37 717.90 L575.68 719.76 L578.00 721.61 L580.32 723.47 L582.64 725.32 L584.96 727.17 L587.28 729.02 L589.60 730.87 L591.92 732.72 L594.24 734.56 L596.56 736.41 L598.88 738.25 L601.20 740.08 L603.52 741.92 L605.84 743.75 L608.15 745.58 L610.47 747.40 L612.79 749.23 L615.11 751.04 L617.43 752.85 L619.75 754.66 L622.07 756.46 L624.39 758.26 L626.71 760.05 L629.03 761.84 L631.35 763.61 L633.67 765.39 L635.99 767.15 L638.30 768.91 L640.62 770.65 L642.94 772.39 L645.26 774.12 L647.58 775.84 L649.90 777.55 L652.22 779.25 L654.54 780.94 L656.86 782.61 L659.18 784.28 L661.50 785.93 L663.82 787.56 L666.14 789.19 L668.45 790.79 L670.77 792.39 L673.09 793.96 L675.41 795.52 L677.73 797.07 L680.05 798.59 L682.37 800.10 L684.69 801.59 L687.01 803.06 L689.33 804.50 L691.65 805.93 L693.97 807.33 L696.29 808.72 L698.60 810.07 L700.92 811.41 L703.24 812.72 L705.56 814.01 L707.88 815.27 L710.20 816.50 L712.52 817.71 L714.84 818.89 L717.16 820.04 L719.48 821.16 L721.80 822.25 L724.12 823.31 L726.44 824.34 L728.76 825.34 L731.07 826.31 L733.39 827.24 L735.71 828.14 L738.03 829.01 L740.35 829.84 L742.67 830.64 L744.99 831.41 L747.31 832.14 L749.63 832.83 L751.95 833.48 L754.27 834.10 L756.59 834.68 L758.91 835.23 L761.22 835.73 L763.54 836.20 L765.86 836.63 L768.18 837.02 L770.50 837.37 L772.82 837.68 L775.14 837.95 L777.46 838.18 L779.78 838.38 L782.10 838.53 L784.42 838.64 L786.74 838.71 L789.06 838.74 L791.38 838.74 L793.69 838.69 L796.01 838.60 L798.33 838.47 L800.65 838.30 L802.97 838.09 L805.29 837.84 L807.61 837.56 L809.93 837.23 L812.25 836.86 L814.57 836.46 L816.89 836.01 L819.21 835.53 L821.53 835.01 L823.84 834.45 L826.16 833.86 L828.48 833.22 L830.80 832.56 L833.12 831.85 L835.44 831.11 L837.76 830.34 L840.08 829.53 L842.40 828.68 L844.72 827.81 L847.04 826.90 L849.36 825.95 L851.68 824.98 L853.99 823.97 L856.31 822.94 L858.63 821.87 L860.95 820.78 L863.27 819.65 L865.59 818.50 L867.91 817.32 L870.23 816.11 L872.55 814.88 L874.87 813.62 L877.19 812.34 L879.51 811.03 L881.83 809.70 L884.14 808.34 L886.46 806.97 L888.78 805.57 L891.10 804.15 L893.42 802.71 L895.74 801.26 L898.06 799.78 L900.38 798.29 L902.70 796.78 L905.02 795.25 L907.34 793.70 L909.66 792.14 L911.98 790.57 L914.30 788.98 L916.61 787.38 L918.93 785.76 L921.25 784.14 L923.57 782.50 L925.89 780.85 L928.21 779.19 L930.53 777.52 L932.85 775.84 L935.17 774.15 L937.49 772.45 L939.81 770.74 L942.13 769.03 L944.45 767.31 L946.76 765.58 L949.08 763.85 L951.40 762.11 L953.72 760.36 L956.04 758.61 L958.36 756.86 L960.68 755.10 L963.00 753.33 L965.32 751.57 L967.64 749.80 L969.96 748.02 L972.28 746.24 L974.60 744.46 L976.92 742.68 L979.23 740.90 L981.55 739.11 L983.87 737.32 L986.19 735.53 L988.51 733.74 L990.83 731.94 L993.15 730.15 L995.47 728.35 L997.79 726.55 L1000.11 724.76 L1002.43 722.96 L1004.75 721.16 L1007.07 719.36 L1009.38 717.56 L1011.70 715.76 L1014.02 713.96 L1016.34 712.16 L1018.66 710.35 L1020.98 708.55 L1023.30 706.75" stroke="#ff0000"/>
<path d="M95.60 706.75 L97.92 704.95 L100.24 703.15 L102.56 701.34 L104.88 699.54 L107.20 697.74 L109.52 695.94 L111.83 694.14 L114.15 692.34 L116.47 690.54 L118.79 688.74 L121.11 686.95 L123.43 685.15 L125.75 683.35 L128.07 681.56 L130.39 679.76 L132.71 677.97 L135.03 676.18 L137.35 674.39 L139.67 672.60 L141.98 670.82 L144.30 669.04 L146.62 667.26 L148.94 665.48 L151.26 663.70 L153.58 661.93 L155.90 660.17 L158.22 658.40 L160.54 656.64 L162.86 654.89 L165.18 653.14 L167.50 651.39 L169.82 649.65 L172.14 647.92 L174.45 646.19 L176.77 644.47 L179.09 642.76 L181.41 641.05 L183.73 639.35 L186.05 637.66 L188.37 635.98 L190.69 634.31 L193.01 632.65 L195.33 631.00 L197.65 629.36 L199.97 627.74 L202.29 626.12 L204.60 624.52 L206.92 622.93 L209.24 621.36 L211.56 619.80 L213.88 618.25 L216.20 616.72 L218.52 615.21 L220.84 613.72 L223.16 612.24 L225.48 610.79 L227.80 609.35 L230.12 607.93 L232.44 606.53 L234.75 605.16 L237.07 603.80 L239.39 602.47 L241.71 601.16 L244.03 599.88 L246.35 598.62 L248.67 597.39 L250.99 596.18 L253.31 595.00 L255.63 593.85 L257.95 592.72 L260.27 591.63 L262.59 590.56 L264.91 589.53 L267.22 588.52 L269.54 587.55 L271.86 586.60 L274.18 585.69 L276.50 584.82 L278.82 583.97 L281.14 583.16 L283.46 582.39 L285.78 581.65 L288.10 580.94 L290.42 580.28 L292.74 579.64 L295.06 579.05 L297.37 578.49 L299.69 577.97 L302.01 577.49 L304.33 577.04 L306.65 576.64 L308.97 576.27 L311.29 575.94 L313.61 575.66 L315.93 575.41 L318.25 575.20 L320.57 575.03 L322.89 574.90 L325.21 574.81 L327.52 574.76 L329.84 574.76 L332.16 574.79 L334.48 574.86 L336.80 574.97 L339.12 575.12 L341.44 575.32 L343.76 575.55 L346.08 575.82 L348.40 576.13 L350.72 576.48 L353.04 576.87 L355.36 577.30 L357.68 577.77 L359.99 578.27 L362.31 578.82 L364.63 579.40 L366.95 580.02 L369.27 580.67 L371.59 581.36 L373.91 582.09 L376.23 582.86 L378.55 583.66 L380.87 584.49 L383.19 585.36 L385.51 586.26 L387.83 587.19 L390.14 588.16 L392.46 589.16 L394.78 590.19 L397.10 591.25 L399.42 592.34 L401.74 593.46 L404.06 594.61 L406.38 595.79 L408.70 597.00 L411.02 598.23 L413.34 599.49 L415.66 600.78 L417.98 602.09 L420.29 603.43 L422.61 604.78 L424.93 606.17 L427.25 607.57 L429.57 609.00 L431.89 610.44 L434.21 611.91 L436.53 613.40 L438.85 614.91 L441.17 616.43 L443.49 617.98 L445.81 619.54 L448.13 621.11 L450.45 622.71 L452.76 624.31 L455.08 625.94 L457.40 627.57 L459.72 629.22 L462.04 630.89 L464.36 632.56 L466.68 634.25 L469.00 635.95 L471.32 637.66 L473.64 639.38 L475.96 641.11 L478.28 642.85 L480.60 644.59 L482.91 646.35 L485.23 648.11 L487.55 649.89 L489.87 651.66 L492.19 653.45 L494.51 655.24 L496.83 657.04 L499.15 658.84 L501.47 660.65 L503.79 662.46 L506.11 664.27 L508.43 666.10 L510.75 667.92 L513.07 669.75 L515.38 671.58 L517.70 673.42 L520.02 675.25 L522.34 677.09 L524.66 678.94 L526.98 680.78 L529.30 682.63 L531.62 684.48 L533.94 686.33 L536.26 688.18 L538.58 690.03 L540.90 691.89 L543.22 693.74 L545.53 695.60 L547.85 697.46 L550.17 699.32 L552.49 701.17 L554.81 703.03 L557.13 704.89 L559.45 706.75 L561.77 708.61 L564.09 710.47 L566.41 712.33 L568.73 714.18 L571.05 716.04 L573.37 717.90 L575.68 719.76 L578.00 721.61 L580.32 723.47 L582.64 725.32 L584.96 727.17 L587.28 729.02 L589.60 730.87 L591.92 732.72 L594.24 734.56 L596.56 736.41 L598.88 738.25 L601.20 740.08 L603.52 741.92 L605.84 743.75 L608.15 745.58 L610.47 747.40 L612.79 749.23 L615.11 751.04 L617.43 752.85 L619.75 754.66 L622.07 756.46 L624.39 758.26 L626.71 760.05 L629.03 761.84 L631.35 763.61 L633.67 765.39 L635.99 767.15 L638.30 768.91 L640.62 770.65 L642.94 772.39 L645.26 774.12 L647.58 775.84 L649.90 777.55 L652.22 779.25 L654.54 780.94 L656.86 782.61 L659.18 784.28 L661.50 785.93 L663.82 787.56 L666.14 789.19 L668.45 790.79 L670.77 792.39 L673.09 793.96 L675.41 795.52 L677.73 797.07 L680.05 798.59 L682.37 800.10 L684.69 801.59 L687.01 803.06 L689.33 804.50 L691.65 805.93 L693.97 807.33 L696.29 808.72 L698.60 810.07 L700.92 811.41 L703.24 812.72 L705.56 814.01 L707.88 815.27 L710.20 816.50 L712.52 817.71 L714.84 818.89 L717.16 820.04 L719.48 821.16 L721.80 822.25 L724.12 823.31 L726.44 824.34 L728.76 825.34 L731.07 826.31 L733.39 827.24 L735.71 828.14 L738.03 829.01 L740.35 829.84 L742.67 830.64 L744.99 831.41 L747.31 832.14 L749.63 832.83 L751.95 833.48 L754.27 834.10 L756.59 834.68 L758.91 835.23 L761.22 835.73 L763.54 836.20 L765.86 836.63 L768.18 837.02 L770.50 837.37 L772.82 837.68 L775.14 837.95 L777.46 838.18 L779.78 838.38 L782.10 838.53 L784.42 838.64 L786.74 838.71 L789.06 838.74 L791.38 838.74 L793.69 838.69 L796.01 838.60 L798.33 838.47 L800.65 838.30 L802.97 838.09 L805.29 837.84 L807.61 837.56 L809.93 837.23 L812.25 836.86 L814.57 836.46 L816.89 836.01 L819.21 835.53 L821.53 835.01 L823.84 834.45 L826.16 833.86 L828.48 833.22 L830.80 832.56 L833.12 831.85 L835.44 831.11 L837.76 830.34 L840.08 829.53 L842.40 828.68 L844.72 827.81 L847.04 826.90 L849.36 825.95 L851.68 824.98 L853.99 823.97 L856.31 822.94 L858.63 821.87 L860.95 820.78 L863.27 819.65 L865.59 818.50 L867.91 817.32 L870.23 816.11 L872.55 814.88 L874.87 813.62 L877.19 812.34 L879.51 811.03 L881.83 809.70 L884.14 808.34 L886.46 806.97 L888.78 805.57 L891.10 804.15 L893.42 802.71 L895.74 801.26 L898.06 799.78 L900.38 798.29 L902.70 796.78 L905.02 795.25 L907.34 793.70 L909.66 792.14 L911.98 790.57 L914.30 788.98 L916.61 787.38 L918.93 785.76 L921.25 784.14 L923.57 782.50 L925.89 780.85 L928.21 779.19 L930.53 777.52 L932.85 775.84 L935.17 774.15 L937.49 772.45 L939.81 770.74 L942.13 769.03 L944.45 767.31 L946.76 765.58 L949.08 763.85 L951.40 762.11 L953.72 760.36 L956.04 758.61 L958.36 756.86 L960.68 755.10 L963.00 753.33 L965.32 751.57 L967.64 749.80 L969.96 748.02 L972.28 746.24 L974.60 744.46 L976.92 742.68 L979.23 740.90 L981.55 739.11 L983.87 737.32 L986.19 735.53 L988.51 733.74 L990.83 731.94 L993.15 730.15 L995.47 728.35 L997.79 726.55 L1000.11 724.76 L1002.43 722.96 L1004.75 721.16 L1007.07 719.36 L1009.38 717.56 L1011.70 715.76 L1014.02 713.96 L1016.34 712.16 L1018.66 710.35 L1020.98 708.55 L1023.30 706.75" stroke="#00ffff" stroke-dasharray="35.6 12.8 9.2 13.1"/>
<path d="M95.60 706.75 L97.92 704.95 L100.24 703.15 L102.56 701.34 L104.88 699.54 L107.20 697.74 L109.52 695.94 L111.83 694.14 L114.15 692.34 L116.47 690.54 L118.79 688.74 L121.11 686.95 L123.43 685.15 L125.75 683.35 L128.07 681.56 L130.39 679.76 L132.71 677.97 L135.03 676.18 L137.35 674.39 L139.67 672.60 L141.98 670.82 L144.30 669.04 L146.62 667.26 L148.94 665.48 L151.26 663.70 L153.58 661.93 L155.90 660.17 L158.22 658.40 L160.54 656.64 L162.86 654.89 L165.18 653.14 L167.50 651.39 L169.82 649.65 L172.14 647.92 L174.45 646.19 L176.77 644.47 L179.09 642.76 L181.41 641.05 L183.73 639.35 L186.05 637.66 L188.37 635.98 L190.69 634.31 L193.01 632.65 L195.33 631.00 L197.65 629.36 L199.97 627.74 L202.29 626.12 L204.60 624.52 L206.92 622.93 L209.24 621.36 L211.56 619.80 L213.88 618.25 L216.20 616.72 L218.52 615.21 L220.84 613.72 L223.16 612.24 L225.48 610.79 L227.80 609.35 L230.12 607.93 L232.44 606.53 L234.75 605.16 L237.07 603.80 L239.39 602.47 L241.71 601.16 L244.03 599.88 L246.35 598.62 L248.67 597.39 L250.99 596.18 L253.31 595.00 L255.63 593.85 L257.95 592.72 L260.27 591.63 L262.59 590.56 L264.91 589.53 L267.22 588.52 L269.54 587.55 L271.86 586.60 L274.18 585.69 L276.50 584.82 L278.82 583.97 L281.14 583.16 L283.46 582.39 L285.78 581.65 L288.10 580.94 L290.42 580.28 L292.74 579.64 L295.06 579.05 L297.37 578.49 L299.69 577.97 L302.01 577.49 L304.33 577.04 L306.65 576.64 L308.97 576.27 L311.29 575.94 L313.61 575.66 L315.93 575.41 L318.25 575.20 L320.57 575.03 L322.89 574.90 L325.21 574.81 L327.52 574.76 L329.84 574.76 L332.16 574.79 L334.48 574.86 L336.80 574.97 L339.12 575.12 L341.44 575.32 L343.76 575.55 L346.08 575.82 L348.40 576.13 L350.72 576.48 L353.04 576.87 L355.36 577.30 L357.68 577.77 L359.99 578.27 L362.31 578.82 L364.63 579.40 L366.95 580.02 L369.27 580.67 L371.59 581.36 L373.91 582.09 L376.23 582.86 L378.55 583.66 L380.87 584.49 L383.19 585.36 L385.51 586.26 L387.83 587.19 L390.14 588.16 L392.46 589.16 L394.78 590.19 L397.10 591.25 L399.42 592.34 L401.74 593.46 L404.06 594.61 L406.38 595.79 L408.70 597.00 L411.02 598.23 L413.34 599.49 L415.66 600.78 L417.98 602.09 L420.29 603.43 L422.61 604.78 L424.93 606.17 L427.25 607.57 L429.57 609.00 L431.89 610.44 L434.21 611.91 L436.53 613.40 L438.85 614.91 L441.17 616.43 L443.49 617.98 L445.81 619.54 L448.13 621.11 L450.45 622.71 L452.76 624.31 L455.08 625.94 L457.40 627.57 L459.72 629.22 L462.04 630.89 L464.36 632.56 L466.68 634.25 L469.00 635.95 L471.32 637.66 L473.64 639.38 L475.96 641.11 L478.28 642.85 L480.60 644.59 L482.91 646.35 L485.23 648.11 L487.55 649.89 L489.87 651.66 L492.19 653.45 L494.51 655.24 L496.83 657.04 L499.15 658.84 L501.47 660.65 L503.79 662.46 L506.11 664.27 L508.43 666.10 L510.75 667.92 L513.07 669.75 L515.38 671.58 L517.70 673.42 L520.02 675.25 L522.34 677.09 L524.66 678.94 L526.98 680.78 L529.30 682.63 L531.62 684.48 L533.94 686.33 L536.26 688.18 L538.58 690.03 L540.90 691.89 L543.22 693.74 L545.53 695.60 L547.85 697.46 L550.17 699.32 L552.49 701.17 L554.81 703.03 L557.13 704.89 L559.45 706.75 L561.77 708.61 L564.09 710.47 L566.41 712.33 L568.73 714.18 L571.05 716.04 L573.37 717.90 L575.68 719.76 L578.00 721.61 L580.32 723.47 L582.64 725.32 L584.96 727.17 L587.28 729.02 L589.60 730.87 L591.92 732.72 L594.24 734.56 L596.56 736.41 L598.88 738.25 L601.20 740.08 L603.52 741.92 L605.84 743.75 L608.15 745.58 L610.47 747.40 L612.79 749.23 L615.11 751.04 L617.43 752.85 L619.75 754.66 L622.07 756.46 L624.39 758.26 L626.71 760.05 L629.03 761.84 L631.35 763.61 L633.67 765.39 L635.99 767.15 L638.30 768.91 L640.62 770.65 L642.94 772.39 L645.26 774.12 L647.58 775.84 L649.90 777.55 L652.22 779.25 L654.54 780.94 L656.86 782.61 L659.18 784.28 L661.50 785.93 L663.82 787.56 L666.14 789.19 L668.45 790.79 L670.77 792.39 L673.09 793.96 L675.41 795.52 L677.73 797.07 L680.05 798.59 L682.37 800.10 L684.69 801.59 L687.01 803.06 L689.33 804.50 L691.65 805.93 L693.97 807.33 L696.29 808.72 L698.60 810.07 L700.92 811.41 L703.24 812.72 L705.56 814.01 L707.88 815.27 L710.20 816.50 L712.52 817.71 L714.84 818.89 L717.16 820.04 L719.48 821.16 L721.80 822.25 L724.12 823.31 L726.44 824.34 L728.76 825.34 L731.07 826.31 L733.39 827.24 L735.71 828.14 L738.03 829.01 L740.35 829.84 L742.67 830.64 L744.99 831.41 L747.31 832.14 L749.63 832.83 L751.95 833.48 L754.27 834.10 L756.59 834.68 L758.91 835.23 L761.22 835.73 L763.54 836.20 L765.86 836.63 L768.18 837.02 L770.50 837.37 L772.82 837.68 L775.14 837.95 L777.46 838.18 L779.78 838.38 L782.10 838.53 L784.42 838.64 L786.74 838.71 L789.06 838.74 L791.38 838.74 L793.69 838.69 L796.01 838.60 L798.33 838.47 L800.65 838.30 L802.97 838.09 L805.29 837.84 L807.61 837.56 L809.93 837.23 L812.25 836.86 L814.57 836.46 L816.89 836.01 L819.21 835.53 L821.53 835.01 L823.84 834.45 L826.16 833.86 L828.48 833.22 L830.80 832.56 L833.12 831.85 L835.44 831.11 L837.76 830.34 L840.08 829.53 L842.40 828.68 L844.72 827.81 L847.04 826.90 L849.36 825.95 L851.68 824.98 L853.99 823.97 L856.31 822.94 L858.63 821.87 L860.95 820.78 L863.27 819.65 L865.59 818.50 L867.91 817.32 L870.23 816.11 L872.55 814.88 L874.87 813.62 L877.19 812.34 L879.51 811.03 L881.83 809.70 L884.14 808.34 L886.46 806.97 L888.78 805.57 L891.10 804.15 L893.42 802.71 L895.74 801.26 L898.06 799.78 L900.38 798.29 L902.70 796.78 L905.02 795.25 L907.34 793.70 L909.66 792.14 L911.98 790.57 L914.30 788.98 L916.61 787.38 L918.93 785.76 L921.25 784.14 L923.57 782.50 L925.89 780.85 L928.21 779.19 L930.53 777.52 L932.85 775.84 L935.17 774.15 L937.49 772.45 L939.81 770.74 L942.13 769.03 L944.45 767.31 L946.76 765.58 L949.08 763.85 L951.40 762.11 L953.72 760.36 L956.04 758.61 L958.36 756.86 L960.68 755.10 L963.00 753.33 L965.32 751.57 L967.64 749.80 L969.96 748.02 L972.28 746.24 L974.60 744.46 L976.92 742.68 L979.23 740.90 L981.55 739.11 L983.87 737.32 L986.19 735.53 L988.51 733.74 L990.83 731.94 L993.15 730.15 L995.47 728.35 L997.79 726.55 L1000.11 724.76 L1002.43 722.96 L1004.75 721.16 L1007.07 719.36 L1009.38 717.56 L1011.70 715.76 L1014.02 713.96 L1016.34 712.16 L1018.66 710.35 L1020.98 708.55 L1023.30 706.75" stroke="#000000" stroke-dasharray="4.8 12.88"/>
</g>
<g fill="none" stroke-width="5.6" stroke-linejoin="round">
<path d="M95.60 985.32 L97.92 985.34 L100.24 985.42 L102.56 985.56 L104.88 985.75 L107.20 985.99 L109.52 986.28 L111.83 986.63 L114.15 987.03 L116.47 987.48 L118.79 987.99 L121.11 988.55 L123.43 989.16 L125.75 989.82 L128.07 990.54 L130.39 991.30 L132.71 992.12 L135.03 992.99 L137.35 993.91 L139.67 994.88 L141.98 995.90 L144.30 996.97 L146.62 998.09 L148.94 999.26 L151.26 1000.48 L153.58 1001.75 L155.90 1003.06 L158.22 1004.42 L160.54 1005.83 L162.86 1007.28 L165.18 1008.78 L167.50 1010.33 L169.82 1011.92 L172.14 1013.55 L174.45 1015.23 L176.77 1016.95 L179.09 1018.71 L181.41 1020.52 L183.73 1022.36 L186.05 1024.25 L188.37 1026.17 L190.69 1028.14 L193.01 1030.14 L195.33 1032.18 L197.65 1034.26 L199.97 1036.38 L202.29 1038.53 L204.60 1040.71 L206.92 1042.93 L209.24 1045.19 L211.56 1047.48 L213.88 1049.79 L216.20 1052.14 L218.52 1054.53 L220.84 1056.94 L223.16 1059.37 L225.48 1061.84 L227.80 1064.34 L230.12 1066.86 L232.44 1069.41 L234.75 1071.98 L237.07 1074.57 L239.39 1077.19 L241.71 1079.83 L244.03 1082.50 L246.35 1085.18 L248.67 1087.89 L250.99 1090.61 L253.31 1093.35 L255.63 1096.11 L257.95 1098.89 L260.27 1101.68 L262.59 1104.48 L264.91 1107.30 L267.22 1110.14 L269.54 1112.98 L271.86 1115.84 L274.18 1118.71 L276.50 1121.59 L278.82 1124.47 L281.14 1127.37 L283.46 1130.27 L285.78 1133.18 L288.10 1136.09 L290.42 1139.01 L292.74 1141.94 L295.06 1144.86 L297.37 1147.79 L299.69 1150.72 L302.01 1153.66 L304.33 1156.59 L306.65 1159.52 L308.97 1162.45 L311.29 1165.38 L313.61 1168.30 L315.93 1171.22 L318.25 1174.14 L320.57 1177.05 L322.89 1179.95 L325.21 1182.85 L327.52 1185.74 L329.84 1188.62 L332.16 1191.49 L334.48 1194.36 L336.80 1197.21 L339.12 1200.05 L341.44 1202.88 L343.76 1205.70 L346.08 1208.50 L348.40 1211.29 L350.72 1214.07 L353.04 1216.83 L355.36 1219.58 L357.68 1222.31 L359.99 1225.02 L362.31 1227.72 L364.63 1230.40 L366.95 1233.06 L369.27 1235.70 L371.59 1238.32 L373.91 1240.92 L376.23 1243.50 L378.55 1246.06 L380.87 1248.60 L383.19 1251.11 L385.51 1253.60 L387.83 1256.07 L390.14 1258.52 L392.46 1260.94 L394.78 1263.34 L397.10 1265.71 L399.42 1268.06 L401.74 1270.38 L404.06 1272.67 L406.38 1274.94 L408.70 1277.18 L411.02 1279.39 L413.34 1281.58 L415.66 1283.74 L417.98 1285.87 L420.29 1287.97 L422.61 1290.04 L424.93 1292.08 L427.25 1294.09 L429.57 1296.07 L431.89 1298.02 L434.21 1299.94 L436.53 1301.83 L438.85 1303.69 L441.17 1305.51 L443.49 1307.31 L445.81 1309.07 L448.13 1310.80 L450.45 1312.50 L452.76 1314.16 L455.08 1315.80 L457.40 1317.40 L459.72 1318.96 L462.04 1320.49 L464.36 1321.99 L466.68 1323.45 L469.00 1324.88 L471.32 1326.28 L473.64 1327.64 L475.96 1328.97 L478.28 1330.26 L480.60 1331.52 L482.91 1332.74 L485.23 1333.93 L487.55 1335.08 L489.87 1336.19 L492.19 1337.27 L494.51 1338.32 L496.83 1339.33 L499.15 1340.30 L501.47 1341.24 L503.79 1342.14 L506.11 1343.00 L508.43 1343.83 L510.75 1344.62 L513.07 1345.38 L515.38 1346.10 L517.70 1346.78 L520.02 1347.43 L522.34 1348.04 L524.66 1348.61 L526.98 1349.15 L529.30 1349.65 L531.62 1350.11 L533.94 1350.54 L536.26 1350.92 L538.58 1351.28 L540.90 1351.59 L543.22 1351.87 L545.53 1352.11 L547.85 1352.31 L550.17 1352.48 L552.49 1352.61 L554.81 1352.70 L557.13 1352.76 L559.45 1352.78 L561.77 1352.76 L564.09 1352.70 L566.41 1352.61 L568.73 1352.48 L571.05 1352.31 L573.37 1352.11 L575.68 1351.87 L578.00 1351.59 L580.32 1351.28 L582.64 1350.92 L584.96 1350.54 L587.28 1350.11 L589.60 1349.65 L591.92 1349.15 L594.24 1348.61 L596.56 1348.04 L598.88 1347.43 L601.20 1346.78 L603.52 1346.10 L605.84 1345.38 L608.15 1344.62 L610.47 1343.83 L612.79 1343.00 L615.11 1342.14 L617.43 1341.24 L619.75 1340.30 L622.07 1339.33 L624.39 1338.32 L626.71 1337.27 L629.03 1336.19 L631.35 1335.08 L633.67 1333.93 L635.99 1332.74 L638.30 1331.52 L640.62 1330.26 L642.94 1328.97 L645.26 1327.64 L647.58 1326.28 L649.90 1324.88 L652.22 1323.45 L654.54 1321.99 L656.86 1320.49 L659.18 1318.96 L661.50 1317.40 L663.82 1315.80 L666.14 1314.16 L668.45 1312.50 L670.77 1310.80 L673.09 1309.07 L675.41 1307.31 L677.73 1305.51 L680.05 1303.69 L682.37 1301.83 L684.69 1299.94 L687.01 1298.02 L689.33 1296.07 L691.65 1294.09 L693.97 1292.08 L696.29 1290.04 L698.60 1287.97 L700.92 1285.87 L703.24 1283.74 L705.56 1281.58 L707.88 1279.39 L710.20 1277.18 L712.52 1274.94 L714.84 1272.67 L717.16 1270.38 L719.48 1268.06 L721.80 1265.71 L724.12 1263.34 L726.44 1260.94 L728.76 1258.52 L731.07 1256.07 L733.39 1253.60 L735.71 1251.11 L738.03 1248.60 L740.35 1246.06 L742.67 1243.50 L744.99 1240.92 L747.31 1238.32 L749.63 1235.70 L751.95 1233.06 L754.27 1230.40 L756.59 1227.72 L758.91 1225.02 L761.22 1222.31 L763.54 1219.58 L765.86 1216.83 L768.18 1214.07 L770.50 1211.29 L772.82 1208.50 L775.14 1205.70 L777.46 1202.88 L779.78 1200.05 L782.10 1197.21 L784.42 1194.36 L786.74 1191.49 L789.06 1188.62 L791.38 1185.74 L793.69 1182.85 L796.01 1179.95 L798.33 1177.05 L800.65 1174.14 L802.97 1171.22 L805.29 1168.30 L807.61 1165.38 L809.93 1162.45 L812.25 1159.52 L814.57 1156.59 L816.89 1153.66 L819.21 1150.72 L821.53 1147.79 L823.84 1144.86 L826.16 1141.94 L828.48 1139.01 L830.80 1136.09 L833.12 1133.18 L835.44 1130.27 L837.76 1127.37 L840.08 1124.47 L842.40 1121.59 L844.72 1118.71 L847.04 1115.84 L849.36 1112.98 L851.68 1110.14 L853.99 1107.30 L856.31 1104.48 L858.63 1101.68 L860.95 1098.89 L863.27 1096.11 L865.59 1093.35 L867.91 1090.61 L870.23 1087.89 L872.55 1085.18 L874.87 1082.50 L877.19 1079.83 L879.51 1077.19 L881.83 1074.57 L884.14 1071.98 L886.46 1069.41 L888.78 1066.86 L891.10 1064.34 L893.42 1061.84 L895.74 1059.37 L898.06 1056.94 L900.38 1054.53 L902.70 1052.14 L905.02 1049.79 L907.34 1047.48 L909.66 1045.19 L911.98 1042.93 L914.30 1040.71 L916.61 1038.53 L918.93 1036.38 L921.25 1034.26 L923.57 1032.18 L925.89 1030.14 L928.21 1028.14 L930.53 1026.17 L932.85 1024.25 L935.17 1022.36 L937.49 1020.52 L939.81 1018.71 L942.13 1016.95 L944.45 1015.23 L946.76 1013.55 L949.08 1011.92 L951.40 1010.33 L953.72 1008.78 L956.04 1007.28 L958.36 1005.83 L960.68 1004.42 L963.00 1003.06 L965.32 1001.75 L967.64 1000.48 L969.96 999.26 L972.28 998.09 L974.60 996.97 L976.92 995.90 L979.23 994.88 L981.55 993.91 L983.87 992.99 L986.19 992.12 L988.51 991.30 L990.83 990.54 L993.15 989.82 L995.47 989.16 L997.79 988.55 L1000.11 987.99 L1002.43 987.48 L1004.75 987.03 L1007.07 986.63 L1009.38 986.28 L1011.70 985.99 L1014.02 985.75 L1016.34 985.56 L1018.66 985.42 L1020.98 985.34 L1023.30 985.32" stroke="#0000ff" stroke-dasharray="44.20 26.52"/>
<path d="M95.60 990.48 L97.92 990.50 L100.24 990.58 L102.56 990.72 L104.88 990.90 L107.20 991.14 L109.52 991.43 L111.83 991.78 L114.15 992.18 L116.47 992.63 L118.79 993.13 L121.11 993.69 L123.43 994.29 L125.75 994.95 L128.07 995.66 L130.39 996.43 L132.71 997.24 L135.03 998.10 L137.35 999.02 L139.67 999.98 L141.98 1001.00 L144.30 1002.06 L146.62 1003.17 L148.94 1004.34 L151.26 1005.55 L153.58 1006.80 L155.90 1008.11 L158.22 1009.46 L160.54 1010.86 L162.86 1012.31 L165.18 1013.80 L167.50 1015.33 L169.82 1016.91 L172.14 1018.53 L174.45 1020.20 L176.77 1021.91 L179.09 1023.66 L181.41 1025.45 L183.73 1027.29 L186.05 1029.16 L188.37 1031.08 L190.69 1033.03 L193.01 1035.02 L195.33 1037.05 L197.65 1039.11 L199.97 1041.21 L202.29 1043.35 L204.60 1045.52 L206.92 1047.73 L209.24 1049.97 L211.56 1052.24 L213.88 1054.54 L216.20 1056.88 L218.52 1059.24 L220.84 1061.64 L223.16 1064.06 L225.48 1066.51 L227.80 1068.99 L230.12 1071.50 L232.44 1074.03 L234.75 1076.58 L237.07 1079.16 L239.39 1081.76 L241.71 1084.39 L244.03 1087.03 L246.35 1089.70 L248.67 1092.39 L250.99 1095.09 L253.31 1097.81 L255.63 1100.55 L257.95 1103.31 L260.27 1106.08 L262.59 1108.87 L264.91 1111.67 L267.22 1114.49 L269.54 1117.31 L271.86 1120.15 L274.18 1123.00 L276.50 1125.86 L278.82 1128.72 L281.14 1131.60 L283.46 1134.48 L285.78 1137.37 L288.10 1140.26 L290.42 1143.16 L292.74 1146.07 L295.06 1148.97 L297.37 1151.88 L299.69 1154.79 L302.01 1157.70 L304.33 1160.61 L306.65 1163.52 L308.97 1166.43 L311.29 1169.34 L313.61 1172.24 L315.93 1175.14 L318.25 1178.03 L320.57 1180.92 L322.89 1183.81 L325.21 1186.68 L327.52 1189.55 L329.84 1192.41 L332.16 1195.26 L334.48 1198.11 L336.80 1200.94 L339.12 1203.76 L341.44 1206.57 L343.76 1209.36 L346.08 1212.15 L348.40 1214.92 L350.72 1217.67 L353.04 1220.42 L355.36 1223.14 L357.68 1225.85 L359.99 1228.54 L362.31 1231.22 L364.63 1233.88 L366.95 1236.52 L369.27 1239.14 L371.59 1241.74 L373.91 1244.32 L376.23 1246.88 L378.55 1249.42 L380.87 1251.93 L383.19 1254.43 L385.51 1256.90 L387.83 1259.35 L390.14 1261.78 L392.46 1264.18 L394.78 1266.56 L397.10 1268.91 L399.42 1271.24 L401.74 1273.54 L404.06 1275.82 L406.38 1278.07 L408.70 1280.29 L411.02 1282.49 L413.34 1284.65 L415.66 1286.79 L417.98 1288.91 L420.29 1290.99 L422.61 1293.04 L424.93 1295.07 L427.25 1297.06 L429.57 1299.03 L431.89 1300.96 L434.21 1302.87 L436.53 1304.74 L438.85 1306.58 L441.17 1308.39 L443.49 1310.17 L445.81 1311.92 L448.13 1313.63 L450.45 1315.32 L452.76 1316.97 L455.08 1318.59 L457.40 1320.17 L459.72 1321.72 L462.04 1323.24 L464.36 1324.73 L466.68 1326.18 L469.00 1327.60 L471.32 1328.98 L473.64 1330.33 L475.96 1331.65 L478.28 1332.93 L480.60 1334.17 L482.91 1335.38 L485.23 1336.56 L487.55 1337.70 L489.87 1338.81 L492.19 1339.88 L494.51 1340.91 L496.83 1341.91 L499.15 1342.88 L501.47 1343.81 L503.79 1344.70 L506.11 1345.56 L508.43 1346.38 L510.75 1347.16 L513.07 1347.91 L515.38 1348.63 L517.70 1349.30 L520.02 1349.94 L522.34 1350.55 L524.66 1351.12 L526.98 1351.65 L529.30 1352.14 L531.62 1352.60 L533.94 1353.02 L536.26 1353.41 L538.58 1353.76 L540.90 1354.07 L543.22 1354.34 L545.53 1354.58 L547.85 1354.79 L550.17 1354.95 L552.49 1355.08 L554.81 1355.17 L557.13 1355.23 L559.45 1355.25 L561.77 1355.23 L564.09 1355.17 L566.41 1355.08 L568.73 1354.95 L571.05 1354.79 L573.37 1354.58 L575.68 1354.34 L578.00 1354.07 L580.32 1353.76 L582.64 1353.41 L584.96 1353.02 L587.28 1352.60 L589.60 1352.14 L591.92 1351.65 L594.24 1351.12 L596.56 1350.55 L598.88 1349.94 L601.20 1349.30 L603.52 1348.63 L605.84 1347.91 L608.15 1347.16 L610.47 1346.38 L612.79 1345.56 L615.11 1344.70 L617.43 1343.81 L619.75 1342.88 L622.07 1341.91 L624.39 1340.91 L626.71 1339.88 L629.03 1338.81 L631.35 1337.70 L633.67 1336.56 L635.99 1335.38 L638.30 1334.17 L640.62 1332.93 L642.94 1331.65 L645.26 1330.33 L647.58 1328.98 L649.90 1327.60 L652.22 1326.18 L654.54 1324.73 L656.86 1323.24 L659.18 1321.72 L661.50 1320.17 L663.82 1318.59 L666.14 1316.97 L668.45 1315.32 L670.77 1313.63 L673.09 1311.92 L675.41 1310.17 L677.73 1308.39 L680.05 1306.58 L682.37 1304.74 L684.69 1302.87 L687.01 1300.96 L689.33 1299.03 L691.65 1297.06 L693.97 1295.07 L696.29 1293.04 L698.60 1290.99 L700.92 1288.91 L703.24 1286.79 L705.56 1284.65 L707.88 1282.49 L710.20 1280.29 L712.52 1278.07 L714.84 1275.82 L717.16 1273.54 L719.48 1271.24 L721.80 1268.91 L724.12 1266.56 L726.44 1264.18 L728.76 1261.78 L731.07 1259.35 L733.39 1256.90 L735.71 1254.43 L738.03 1251.93 L740.35 1249.42 L742.67 1246.88 L744.99 1244.32 L747.31 1241.74 L749.63 1239.14 L751.95 1236.52 L754.27 1233.88 L756.59 1231.22 L758.91 1228.54 L761.22 1225.85 L763.54 1223.14 L765.86 1220.42 L768.18 1217.67 L770.50 1214.92 L772.82 1212.15 L775.14 1209.36 L777.46 1206.57 L779.78 1203.76 L782.10 1200.94 L784.42 1198.11 L786.74 1195.26 L789.06 1192.41 L791.38 1189.55 L793.69 1186.68 L796.01 1183.81 L798.33 1180.92 L800.65 1178.03 L802.97 1175.14 L805.29 1172.24 L807.61 1169.34 L809.93 1166.43 L812.25 1163.52 L814.57 1160.61 L816.89 1157.70 L819.21 1154.79 L821.53 1151.88 L823.84 1148.97 L826.16 1146.07 L828.48 1143.16 L830.80 1140.26 L833.12 1137.37 L835.44 1134.48 L837.76 1131.60 L840.08 1128.72 L842.40 1125.86 L844.72 1123.00 L847.04 1120.15 L849.36 1117.31 L851.68 1114.49 L853.99 1111.67 L856.31 1108.87 L858.63 1106.08 L860.95 1103.31 L863.27 1100.55 L865.59 1097.81 L867.91 1095.09 L870.23 1092.39 L872.55 1089.70 L874.87 1087.03 L877.19 1084.39 L879.51 1081.76 L881.83 1079.16 L884.14 1076.58 L886.46 1074.03 L888.78 1071.50 L891.10 1068.99 L893.42 1066.51 L895.74 1064.06 L898.06 1061.64 L900.38 1059.24 L902.70 1056.88 L905.02 1054.54 L907.34 1052.24 L909.66 1049.97 L911.98 1047.73 L914.30 1045.52 L916.61 1043.35 L918.93 1041.21 L921.25 1039.11 L923.57 1037.05 L925.89 1035.02 L928.21 1033.03 L930.53 1031.08 L932.85 1029.16 L935.17 1027.29 L937.49 1025.45 L939.81 1023.66 L942.13 1021.91 L944.45 1020.20 L946.76 1018.53 L949.08 1016.91 L951.40 1015.33 L953.72 1013.80 L956.04 1012.31 L958.36 1010.86 L960.68 1009.46 L963.00 1008.11 L965.32 1006.80 L967.64 1005.55 L969.96 1004.34 L972.28 1003.17 L974.60 1002.06 L976.92 1001.00 L979.23 999.98 L981.55 999.02 L983.87 998.10 L986.19 997.24 L988.51 996.43 L990.83 995.66 L993.15 994.95 L995.47 994.29 L997.79 993.69 L1000.11 993.13 L1002.43 992.63 L1004.75 992.18 L1007.07 991.78 L1009.38 991.43 L1011.70 991.14 L1014.02 990.90 L1016.34 990.72 L1018.66 990.58 L1020.98 990.50 L1023.30 990.48" stroke="#ff0000"/>
<path d="M95.60 990.48 L97.92 990.50 L100.24 990.58 L102.56 990.72 L104.88 990.90 L107.20 991.14 L109.52 991.43 L111.83 991.78 L114.15 992.18 L116.47 992.63 L118.79 993.13 L121.11 993.69 L123.43 994.29 L125.75 994.95 L128.07 995.66 L130.39 996.43 L132.71 997.24 L135.03 998.10 L137.35 999.02 L139.67 999.98 L141.98 1001.00 L144.30 1002.06 L146.62 1003.17 L148.94 1004.34 L151.26 1005.55 L153.58 1006.80 L155.90 1008.11 L158.22 1009.46 L160.54 1010.86 L162.86 1012.31 L165.18 1013.80 L167.50 1015.33 L169.82 1016.91 L172.14 1018.53 L174.45 1020.20 L176.77 1021.91 L179.09 1023.66 L181.41 1025.45 L183.73 1027.29 L186.05 1029.16 L188.37 1031.08 L190.69 1033.03 L193.01 1035.02 L195.33 1037.05 L197.65 1039.11 L199.97 1041.21 L202.29 1043.35 L204.60 1045.52 L206.92 1047.73 L209.24 1049.97 L211.56 1052.24 L213.88 1054.54 L216.20 1056.88 L218.52 1059.24 L220.84 1061.64 L223.16 1064.06 L225.48 1066.51 L227.80 1068.99 L230.12 1071.50 L232.44 1074.03 L234.75 1076.58 L237.07 1079.16 L239.39 1081.76 L241.71 1084.39 L244.03 1087.03 L246.35 1089.70 L248.67 1092.39 L250.99 1095.09 L253.31 1097.81 L255.63 1100.55 L257.95 1103.31 L260.27 1106.08 L262.59 1108.87 L264.91 1111.67 L267.22 1114.49 L269.54 1117.31 L271.86 1120.15 L274.18 1123.00 L276.50 1125.86 L278.82 1128.72 L281.14 1131.60 L283.46 1134.48 L285.78 1137.37 L288.10 1140.26 L290.42 1143.16 L292.74 1146.07 L295.06 1148.97 L297.37 1151.88 L299.69 1154.79 L302.01 1157.70 L304.33 1160.61 L306.65 1163.52 L308.97 1166.43 L311.29 1169.34 L313.61 1172.24 L315.93 1175.14 L318.25 1178.03 L320.57 1180.92 L322.89 1183.81 L325.21 1186.68 L327.52 1189.55 L329.84 1192.41 L332.16 1195.26 L334.48 1198.11 L336.80 1200.94 L339.12 1203.76 L341.44 1206.57 L343.76 1209.36 L346.08 1212.15 L348.40 1214.92 L350.72 1217.67 L353.04 1220.42 L355.36 1223.14 L357.68 1225.85 L359.99 1228.54 L362.31 1231.22 L364.63 1233.88 L366.95 1236.52 L369.27 1239.14 L371.59 1241.74 L373.91 1244.32 L376.23 1246.88 L378.55 1249.42 L380.87 1251.93 L383.19 1254.43 L385.51 1256.90 L387.83 1259.35 L390.14 1261.78 L392.46 1264.18 L394.78 1266.56 L397.10 1268.91 L399.42 1271.24 L401.74 1273.54 L404.06 1275.82 L406.38 1278.07 L408.70 1280.29 L411.02 1282.49 L413.34 1284.65 L415.66 1286.79 L417.98 1288.91 L420.29 1290.99 L422.61 1293.04 L424.93 1295.07 L427.25 1297.06 L429.57 1299.03 L431.89 1300.96 L434.21 1302.87 L436.53 1304.74 L438.85 1306.58 L441.17 1308.39 L443.49 1310.17 L445.81 1311.92 L448.13 1313.63 L450.45 1315.32 L452.76 1316.97 L455.08 1318.59 L457.40 1320.17 L459.72 1321.72 L462.04 1323.24 L464.36 1324.73 L466.68 1326.18 L469.00 1327.60 L471.32 1328.98 L473.64 1330.33 L475.96 1331.65 L478.28 1332.93 L480.60 1334.17 L482.91 1335.38 L485.23 1336.56 L487.55 1337.70 L489.87 1338.81 L492.19 1339.88 L494.51 1340.91 L496.83 1341.91 L499.15 1342.88 L501.47 1343.81 L503.79 1344.70 L506.11 1345.56 L508.43 1346.38 L510.75 1347.16 L513.07 1347.91 L515.38 1348.63 L517.70 1349.30 L520.02 1349.94 L522.34 1350.55 L524.66 1351.12 L526.98 1351.65 L529.30 1352.14 L531.62 1352.60 L533.94 1353.02 L536.26 1353.41 L538.58 1353.76 L540.90 1354.07 L543.22 1354.34 L545.53 1354.58 L547.85 1354.79 L550.17 1354.95 L552.49 1355.08 L554.81 1355.17 L557.13 1355.23 L559.45 1355.25 L561.77 1355.23 L564.09 1355.17 L566.41 1355.08 L568.73 1354.95 L571.05 1354.79 L573.37 1354.58 L575.68 1354.34 L578.00 1354.07 L580.32 1353.76 L582.64 1353.41 L584.96 1353.02 L587.28 1352.60 L589.60 1352.14 L591.92 1351.65 L594.24 1351.12 L596.56 1350.55 L598.88 1349.94 L601.20 1349.30 L603.52 1348.63 L605.84 1347.91 L608.15 1347.16 L610.47 1346.38 L612.79 1345.56 L615.11 1344.70 L617.43 1343.81 L619.75 1342.88 L622.07 1341.91 L624.39 1340.91 L626.71 1339.88 L629.03 1338.81 L631.35 1337.70 L633.67 1336.56 L635.99 1335.38 L638.30 1334.17 L640.62 1332.93 L642.94 1331.65 L645.26 1330.33 L647.58 1328.98 L649.90 1327.60 L652.22 1326.18 L654.54 1324.73 L656.86 1323.24 L659.18 1321.72 L661.50 1320.17 L663.82 1318.59 L666.14 1316.97 L668.45 1315.32 L670.77 1313.63 L673.09 1311.92 L675.41 1310.17 L677.73 1308.39 L680.05 1306.58 L682.37 1304.74 L684.69 1302.87 L687.01 1300.96 L689.33 1299.03 L691.65 1297.06 L693.97 1295.07 L696.29 1293.04 L698.60 1290.99 L700.92 1288.91 L703.24 1286.79 L705.56 1284.65 L707.88 1282.49 L710.20 1280.29 L712.52 1278.07 L714.84 1275.82 L717.16 1273.54 L719.48 1271.24 L721.80 1268.91 L724.12 1266.56 L726.44 1264.18 L728.76 1261.78 L731.07 1259.35 L733.39 1256.90 L735.71 1254.43 L738.03 1251.93 L740.35 1249.42 L742.67 1246.88 L744.99 1244.32 L747.31 1241.74 L749.63 1239.14 L751.95 1236.52 L754.27 1233.88 L756.59 1231.22 L758.91 1228.54 L761.22 1225.85 L763.54 1223.14 L765.86 1220.42 L768.18 1217.67 L770.50 1214.92 L772.82 1212.15 L775.14 1209.36 L777.46 1206.57 L779.78 1203.76 L782.10 1200.94 L784.42 1198.11 L786.74 1195.26 L789.06 1192.41 L791.38 1189.55 L793.69 1186.68 L796.01 1183.81 L798.33 1180.92 L800.65 1178.03 L802.97 1175.14 L805.29 1172.24 L807.61 1169.34 L809.93 1166.43 L812.25 1163.52 L814.57 1160.61 L816.89 1157.70 L819.21 1154.79 L821.53 1151.88 L823.84 1148.97 L826.16 1146.07 L828.48 1143.16 L830.80 1140.26 L833.12 1137.37 L835.44 1134.48 L837.76 1131.60 L840.08 1128.72 L842.40 1125.86 L844.72 1123.00 L847.04 1120.15 L849.36 1117.31 L851.68 1114.49 L853.99 1111.67 L856.31 1108.87 L858.63 1106.08 L860.95 1103.31 L863.27 1100.55 L865.59 1097.81 L867.91 1095.09 L870.23 1092.39 L872.55 1089.70 L874.87 1087.03 L877.19 1084.39 L879.51 1081.76 L881.83 1079.16 L884.14 1076.58 L886.46 1074.03 L888.78 1071.50 L891.10 1068.99 L893.42 1066.51 L895.74 1064.06 L898.06 1061.64 L900.38 1059.24 L902.70 1056.88 L905.02 1054.54 L907.34 1052.24 L909.66 1049.97 L911.98 1047.73 L914.30 1045.52 L916.61 1043.35 L918.93 1041.21 L921.25 1039.11 L923.57 1037.05 L925.89 1035.02 L928.21 1033.03 L930.53 1031.08 L932.85 1029.16 L935.17 1027.29 L937.49 1025.45 L939.81 1023.66 L942.13 1021.91 L944.45 1020.20 L946.76 1018.53 L949.08 1016.91 L951.40 1015.33 L953.72 1013.80 L956.04 1012.31 L958.36 1010.86 L960.68 1009.46 L963.00 1008.11 L965.32 1006.80 L967.64 1005.55 L969.96 1004.34 L972.28 1003.17 L974.60 1002.06 L976.92 1001.00 L979.23 999.98 L981.55 999.02 L983.87 998.10 L986.19 997.24 L988.51 996.43 L990.83 995.66 L993.15 994.95 L995.47 994.29 L997.79 993.69 L1000.11 993.13 L1002.43 992.63 L1004.75 992.18 L1007.07 991.78 L1009.38 991.43 L1011.70 991.14 L1014.02 990.90 L1016.34 990.72 L1018.66 990.58 L1020.98 990.50 L1023.30 990.48" stroke="#00ffff" stroke-dasharray="35.6 12.8 9.2 13.1"/>
<path d="M95.60 990.48 L97.92 990.50 L100.24 990.58 L102.56 990.72 L104.88 990.90 L107.20 991.14 L109.52 991.43 L111.83 991.78 L114.15 992.18 L116.47 992.63 L118.79 993.13 L121.11 993.69 L123.43 994.29 L125.75 994.95 L128.07 995.66 L130.39 996.43 L132.71 997.24 L135.03 998.10 L137.35 999.02 L139.67 999.98 L141.98 1001.00 L144.30 1002.06 L146.62 1003.17 L148.94 1004.34 L151.26 1005.55 L153.58 1006.80 L155.90 1008.11 L158.22 1009.46 L160.54 1010.86 L162.86 1012.31 L165.18 1013.80 L167.50 1015.33 L169.82 1016.91 L172.14 1018.53 L174.45 1020.20 L176.77 1021.91 L179.09 1023.66 L181.41 1025.45 L183.73 1027.29 L186.05 1029.16 L188.37 1031.08 L190.69 1033.03 L193.01 1035.02 L195.33 1037.05 L197.65 1039.11 L199.97 1041.21 L202.29 1043.35 L204.60 1045.52 L206.92 1047.73 L209.24 1049.97 L211.56 1052.24 L213.88 1054.54 L216.20 1056.88 L218.52 1059.24 L220.84 1061.64 L223.16 1064.06 L225.48 1066.51 L227.80 1068.99 L230.12 1071.50 L232.44 1074.03 L234.75 1076.58 L237.07 1079.16 L239.39 1081.76 L241.71 1084.39 L244.03 1087.03 L246.35 1089.70 L248.67 1092.39 L250.99 1095.09 L253.31 1097.81 L255.63 1100.55 L257.95 1103.31 L260.27 1106.08 L262.59 1108.87 L264.91 1111.67 L267.22 1114.49 L269.54 1117.31 L271.86 1120.15 L274.18 1123.00 L276.50 1125.86 L278.82 1128.72 L281.14 1131.60 L283.46 1134.48 L285.78 1137.37 L288.10 1140.26 L290.42 1143.16 L292.74 1146.07 L295.06 1148.97 L297.37 1151.88 L299.69 1154.79 L302.01 1157.70 L304.33 1160.61 L306.65 1163.52 L308.97 1166.43 L311.29 1169.34 L313.61 1172.24 L315.93 1175.14 L318.25 1178.03 L320.57 1180.92 L322.89 1183.81 L325.21 1186.68 L327.52 1189.55 L329.84 1192.41 L332.16 1195.26 L334.48 1198.11 L336.80 1200.94 L339.12 1203.76 L341.44 1206.57 L343.76 1209.36 L346.08 1212.15 L348.40 1214.92 L350.72 1217.67 L353.04 1220.42 L355.36 1223.14 L357.68 1225.85 L359.99 1228.54 L362.31 1231.22 L364.63 1233.88 L366.95 1236.52 L369.27 1239.14 L371.59 1241.74 L373.91 1244.32 L376.23 1246.88 L378.55 1249.42 L380.87 1251.93 L383.19 1254.43 L385.51 1256.90 L387.83 1259.35 L390.14 1261.78 L392.46 1264.18 L394.78 1266.56 L397.10 1268.91 L399.42 1271.24 L401.74 1273.54 L404.06 1275.82 L406.38 1278.07 L408.70 1280.29 L411.02 1282.49 L413.34 1284.65 L415.66 1286.79 L417.98 1288.91 L420.29 1290.99 L422.61 1293.04 L424.93 1295.07 L427.25 1297.06 L429.57 1299.03 L431.89 1300.96 L434.21 1302.87 L436.53 1304.74 L438.85 1306.58 L441.17 1308.39 L443.49 1310.17 L445.81 1311.92 L448.13 1313.63 L450.45 1315.32 L452.76 1316.97 L455.08 1318.59 L457.40 1320.17 L459.72 1321.72 L462.04 1323.24 L464.36 1324.73 L466.68 1326.18 L469.00 1327.60 L471.32 1328.98 L473.64 1330.33 L475.96 1331.65 L478.28 1332.93 L480.60 1334.17 L482.91 1335.38 L485.23 1336.56 L487.55 1337.70 L489.87 1338.81 L492.19 1339.88 L494.51 1340.91 L496.83 1341.91 L499.15 1342.88 L501.47 1343.81 L503.79 1344.70 L506.11 1345.56 L508.43 1346.38 L510.75 1347.16 L513.07 1347.91 L515.38 1348.63 L517.70 1349.30 L520.02 1349.94 L522.34 1350.55 L524.66 1351.12 L526.98 1351.65 L529.30 1352.14 L531.62 1352.60 L533.94 1353.02 L536.26 1353.41 L538.58 1353.76 L540.90 1354.07 L543.22 1354.34 L545.53 1354.58 L547.85 1354.79 L550.17 1354.95 L552.49 1355.08 L554.81 1355.17 L557.13 1355.23 L559.45 1355.25 L561.77 1355.23 L564.09 1355.17 L566.41 1355.08 L568.73 1354.95 L571.05 1354.79 L573.37 1354.58 L575.68 1354.34 L578.00 1354.07 L580.32 1353.76 L582.64 1353.41 L584.96 1353.02 L587.28 1352.60 L589.60 1352.14 L591.92 1351.65 L594.24 1351.12 L596.56 1350.55 L598.88 1349.94 L601.20 1349.30 L603.52 1348.63 L605.84 1347.91 L608.15 1347.16 L610.47 1346.38 L612.79 1345.56 L615.11 1344.70 L617.43 1343.81 L619.75 1342.88 L622.07 1341.91 L624.39 1340.91 L626.71 1339.88 L629.03 1338.81 L631.35 1337.70 L633.67 1336.56 L635.99 1335.38 L638.30 1334.17 L640.62 1332.93 L642.94 1331.65 L645.26 1330.33 L647.58 1328.98 L649.90 1327.60 L652.22 1326.18 L654.54 1324.73 L656.86 1323.24 L659.18 1321.72 L661.50 1320.17 L663.82 1318.59 L666.14 1316.97 L668.45 1315.32 L670.77 1313.63 L673.09 1311.92 L675.41 1310.17 L677.73 1308.39 L680.05 1306.58 L682.37 1304.74 L684.69 1302.87 L687.01 1300.96 L689.33 1299.03 L691.65 1297.06 L693.97 1295.07 L696.29 1293.04 L698.60 1290.99 L700.92 1288.91 L703.24 1286.79 L705.56 1284.65 L707.88 1282.49 L710.20 1280.29 L712.52 1278.07 L714.84 1275.82 L717.16 1273.54 L719.48 1271.24 L721.80 1268.91 L724.12 1266.56 L726.44 1264.18 L728.76 1261.78 L731.07 1259.35 L733.39 1256.90 L735.71 1254.43 L738.03 1251.93 L740.35 1249.42 L742.67 1246.88 L744.99 1244.32 L747.31 1241.74 L749.63 1239.14 L751.95 1236.52 L754.27 1233.88 L756.59 1231.22 L758.91 1228.54 L761.22 1225.85 L763.54 1223.14 L765.86 1220.42 L768.18 1217.67 L770.50 1214.92 L772.82 1212.15 L775.14 1209.36 L777.46 1206.57 L779.78 1203.76 L782.10 1200.94 L784.42 1198.11 L786.74 1195.26 L789.06 1192.41 L791.38 1189.55 L793.69 1186.68 L796.01 1183.81 L798.33 1180.92 L800.65 1178.03 L802.97 1175.14 L805.29 1172.24 L807.61 1169.34 L809.93 1166.43 L812.25 1163.52 L814.57 1160.61 L816.89 1157.70 L819.21 1154.79 L821.53 1151.88 L823.84 1148.97 L826.16 1146.07 L828.48 1143.16 L830.80 1140.26 L833.12 1137.37 L835.44 1134.48 L837.76 1131.60 L840.08 1128.72 L842.40 1125.86 L844.72 1123.00 L847.04 1120.15 L849.36 1117.31 L851.68 1114.49 L853.99 1111.67 L856.31 1108.87 L858.63 1106.08 L860.95 1103.31 L863.27 1100.55 L865.59 1097.81 L867.91 1095.09 L870.23 1092.39 L872.55 1089.70 L874.87 1087.03 L877.19 1084.39 L879.51 1081.76 L881.83 1079.16 L884.14 1076.58 L886.46 1074.03 L888.78 1071.50 L891.10 1068.99 L893.42 1066.51 L895.74 1064.06 L898.06 1061.64 L900.38 1059.24 L902.70 1056.88 L905.02 1054.54 L907.34 1052.24 L909.66 1049.97 L911.98 1047.73 L914.30 1045.52 L916.61 1043.35 L918.93 1041.21 L921.25 1039.11 L923.57 1037.05 L925.89 1035.02 L928.21 1033.03 L930.53 1031.08 L932.85 1029.16 L935.17 1027.29 L937.49 1025.45 L939.81 1023.66 L942.13 1021.91 L944.45 1020.20 L946.76 1018.53 L949.08 1016.91 L951.40 1015.33 L953.72 1013.80 L956.04 1012.31 L958.36 1010.86 L960.68 1009.46 L963.00 1008.11 L965.32 1006.80 L967.64 1005.55 L969.96 1004.34 L972.28 1003.17 L974.60 1002.06 L976.92 1001.00 L979.23 999.98 L981.55 999.02 L983.87 998.10 L986.19 997.24 L988.51 996.43 L990.83 995.66 L993.15 994.95 L995.47 994.29 L997.79 993.69 L1000.11 993.13 L1002.43 992.63 L1004.75 992.18 L1007.07 991.78 L1009.38 991.43 L1011.70 991.14 L1014.02 990.90 L1016.34 990.72 L1018.66 990.58 L1020.98 990.50 L1023.30 990.48" stroke="#000000" stroke-dasharray="4.8 12.88"/>
</g>
<text transform="translate(77.60,73.00) scale(1,1.05)" text-anchor="end" font-family="Liberation Sans, sans-serif" font-size="44.4" fill="#262626" stroke="#262626" stroke-width="0.4">0.2</text>
<text transform="translate(77.60,258.35) scale(1,1.05)" text-anchor="end" font-family="Liberation Sans, sans-serif" font-size="44.4" fill="#262626" stroke="#262626" stroke-width="0.4">0</text>
<text transform="translate(74.60,443.70) scale(1,1.05)" text-anchor="end" font-family="Liberation Sans, sans-serif" font-size="44.4" fill="#262626" stroke="#262626" stroke-width="0.4">-0.2</text>
<text transform="translate(77.60,536.90) scale(1,1.05)" text-anchor="end" font-family="Liberation Sans, sans-serif" font-size="44.4" fill="#262626" stroke="#262626" stroke-width="0.4">0.1</text>
<text transform="translate(77.60,722.35) scale(1,1.05)" text-anchor="end" font-family="Liberation Sans, sans-serif" font-size="44.4" fill="#262626" stroke="#262626" stroke-width="0.4">0</text>
<text transform="translate(74.60,907.80) scale(1,1.05)" text-anchor="end" font-family="Liberation Sans, sans-serif" font-size="44.4" fill="#262626" stroke="#262626" stroke-width="0.4">-0.1</text>
<text transform="translate(74.60,1081.50) scale(1,1.05)" text-anchor="end" font-family="Liberation Sans, sans-serif" font-size="44.4" fill="#262626" stroke="#262626" stroke-width="0.4">-0.4</text>
<text transform="translate(74.60,1171.23) scale(1,1.05)" text-anchor="end" font-family="Liberation Sans, sans-serif" font-size="44.4" fill="#262626" stroke="#262626" stroke-width="0.4">-0.6</text>
<text transform="translate(74.60,1260.97) scale(1,1.05)" text-anchor="end" font-family="Liberation Sans, sans-serif" font-size="44.4" fill="#262626" stroke="#262626" stroke-width="0.4">-0.8</text>
<text transform="translate(73.20,1350.70) scale(1,1.05)" text-anchor="end" font-family="Liberation Sans, sans-serif" font-size="44.4" fill="#262626" stroke="#262626" stroke-width="0.4">-1</text>
<text transform="translate(113.81,1419.10) scale(1,1.05)" text-anchor="middle" font-family="Liberation Sans, sans-serif" font-size="44.4" fill="#262626" stroke="#262626" stroke-width="0.4">-3</text>
<text transform="translate(261.45,1419.10) scale(1,1.05)" text-anchor="middle" font-family="Liberation Sans, sans-serif" font-size="44.4" fill="#262626" stroke="#262626" stroke-width="0.4">-2</text>
<text transform="translate(409.10,1419.10) scale(1,1.05)" text-anchor="middle" font-family="Liberation Sans, sans-serif" font-size="44.4" fill="#262626" stroke="#262626" stroke-width="0.4">-1</text>
<text transform="translate(559.15,1419.10) scale(1,1.05)" text-anchor="middle" font-family="Liberation Sans, sans-serif" font-size="44.4" fill="#262626" stroke="#262626" stroke-width="0.4">0</text>
<text transform="translate(706.80,1419.10) scale(1,1.05)" text-anchor="middle" font-family="Liberation Sans, sans-serif" font-size="44.4" fill="#262626" stroke="#262626" stroke-width="0.4">1</text>
<text transform="translate(854.45,1419.10) scale(1,1.05)" text-anchor="middle" font-family="Liberation Sans, sans-serif" font-size="44.4" fill="#262626" stroke="#262626" stroke-width="0.4">2</text>
<text transform="translate(1002.09,1419.10) scale(1,1.05)" text-anchor="middle" font-family="Liberation Sans, sans-serif" font-size="44.4" fill="#262626" stroke="#262626" stroke-width="0.4">3</text>
<text transform="translate(406.53,33.60) scale(1.2200,1.0000)" font-family="Liberation Serif, serif" font-size="47.5" font-style="italic" fill="#000" >n</text>
<text transform="translate(413.55,10.71) scale(0.3000,0.1634)" font-family="Liberation Serif, serif" font-size="100.0" fill="#000" stroke="#000" stroke-width="0.7" vector-effect="non-scaling-stroke">^</text>
<text transform="translate(434.44,41.40) scale(1.0811,1.0000)" font-family="Liberation Serif, serif" font-size="36.0" fill="#000" >e</text>
<text transform="translate(468.19,33.60) scale(1.09,1)" font-family="Liberation Serif, serif" font-size="47.5" letter-spacing="1.01" fill="#000">due</text>
<text transform="translate(560.48,33.60) scale(1.09,1)" font-family="Liberation Serif, serif" font-size="47.5" letter-spacing="3.58" fill="#000">to</text>
<text transform="translate(620.85,34.27) scale(0.4948,0.4484)" font-family="Liberation Serif, serif" font-size="100.0" font-style="italic" fill="#000" >p</text>
<text transform="translate(629.48,11.55) scale(0.2795,0.1656)" font-family="Liberation Serif, serif" font-size="100.0" fill="#000" stroke="#000" stroke-width="0.7" vector-effect="non-scaling-stroke">^</text>
<text transform="translate(643.37,41.40) scale(0.9958,1.0000)" font-family="Liberation Serif, serif" font-size="36.0" fill="#000" >e0</text>
<text transform="translate(677.42,41.40) scale(1.0185,1.0000)" font-family="Liberation Serif, serif" font-size="36.0" fill="#000" >,</text>
<text transform="translate(684.55,40.60) scale(0.3757,0.3951)" font-family="Liberation Serif, serif" font-size="100.0" font-style="italic" fill="#000" >ψ</text>
<text transform="translate(404.60,497.70) scale(1.2200,1.0000)" font-family="Liberation Serif, serif" font-size="47.5" font-style="italic" fill="#000" >T</text>
<text transform="translate(421.25,462.41) scale(0.3023,0.1634)" font-family="Liberation Serif, serif" font-size="100.0" fill="#000" stroke="#000" stroke-width="0.7" vector-effect="non-scaling-stroke">^</text>
<text transform="translate(434.44,505.50) scale(1.0811,1.0000)" font-family="Liberation Serif, serif" font-size="36.0" fill="#000" >e</text>
<text transform="translate(468.19,497.70) scale(1.09,1)" font-family="Liberation Serif, serif" font-size="47.5" letter-spacing="1.01" fill="#000">due</text>
<text transform="translate(560.48,497.70) scale(1.09,1)" font-family="Liberation Serif, serif" font-size="47.5" letter-spacing="3.58" fill="#000">to</text>
<text transform="translate(620.85,498.37) scale(0.4948,0.4484)" font-family="Liberation Serif, serif" font-size="100.0" font-style="italic" fill="#000" >p</text>
<text transform="translate(629.48,475.65) scale(0.2795,0.1656)" font-family="Liberation Serif, serif" font-size="100.0" fill="#000" stroke="#000" stroke-width="0.7" vector-effect="non-scaling-stroke">^</text>
<text transform="translate(643.37,505.50) scale(0.9958,1.0000)" font-family="Liberation Serif, serif" font-size="36.0" fill="#000" >e0</text>
<text transform="translate(677.42,505.50) scale(1.0185,1.0000)" font-family="Liberation Serif, serif" font-size="36.0" fill="#000" >,</text>
<text transform="translate(684.55,504.70) scale(0.3757,0.3951)" font-family="Liberation Serif, serif" font-size="100.0" font-style="italic" fill="#000" >ψ</text>
<text transform="translate(405.78,961.30) scale(1.2200,1.0000)" font-family="Liberation Serif, serif" font-size="47.5" font-style="italic" fill="#000" >u</text>
<text transform="translate(413.19,940.03) scale(0.3386,0.1699)" font-family="Liberation Serif, serif" font-size="100.0" fill="#000" stroke="#000" stroke-width="0.7" vector-effect="non-scaling-stroke">^</text>
<text transform="translate(434.44,969.10) scale(1.0811,1.0000)" font-family="Liberation Serif, serif" font-size="36.0" fill="#000" >e</text>
<text transform="translate(468.19,961.30) scale(1.09,1)" font-family="Liberation Serif, serif" font-size="47.5" letter-spacing="1.01" fill="#000">due</text>
<text transform="translate(560.48,961.30) scale(1.09,1)" font-family="Liberation Serif, serif" font-size="47.5" letter-spacing="3.58" fill="#000">to</text>
<text transform="translate(620.85,961.97) scale(0.4948,0.4484)" font-family="Liberation Serif, serif" font-size="100.0" font-style="italic" fill="#000" >p</text>
<text transform="translate(629.48,939.25) scale(0.2795,0.1656)" font-family="Liberation Serif, serif" font-size="100.0" fill="#000" stroke="#000" stroke-width="0.7" vector-effect="non-scaling-stroke">^</text>
<text transform="translate(643.37,969.10) scale(0.9958,1.0000)" font-family="Liberation Serif, serif" font-size="36.0" fill="#000" >e0</text>
<text transform="translate(677.42,969.10) scale(1.0185,1.0000)" font-family="Liberation Serif, serif" font-size="36.0" fill="#000" >,</text>
<text transform="translate(684.55,968.30) scale(0.3757,0.3951)" font-family="Liberation Serif, serif" font-size="100.0" font-style="italic" fill="#000" >ψ</text>
<g fill="none" stroke-width="5.6">
<path d="M674 622.9 H807" stroke="#0000ff" stroke-dasharray="44.20 26.52"/>
<path d="M674 678.2 H807" stroke="#ff0000"/>
<path d="M674 733.7 H807" stroke="#00ffff" stroke-dasharray="35.6 12.8 9.2 13.1"/>
<path d="M674 788.8 H807" stroke="#000000" stroke-dasharray="4.8 12.88"/>
</g>
<text x="820.3" y="633.80" font-family="Liberation Serif, serif" font-size="45.9" fill="#000">NoCie</text>
<text x="820.3" y="689.10" font-family="Liberation Serif, serif" font-size="45.9" fill="#000">C01N</text>
<text x="820.3" y="744.60" font-family="Liberation Serif, serif" font-size="45.9" fill="#000">C1N</text>
<text x="820.3" y="799.70" font-family="Liberation Serif, serif" font-size="45.9" fill="#000">C01</text>
<text transform="translate(540.91,1498.28) scale(0.6286,0.6183)" font-family="Liberation Serif, serif" font-size="100.0" font-style="italic" fill="#262626" >θ</text>
</svg>
</body></html>
